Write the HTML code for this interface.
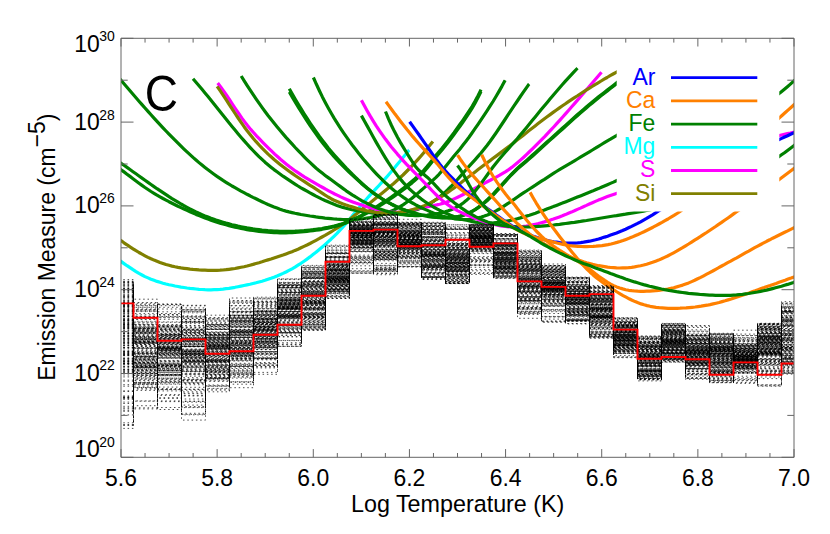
<!DOCTYPE html><html><head><meta charset="utf-8"><title>EM loci</title>
<style>html,body{margin:0;padding:0;background:#fff}svg{display:block}text{font-family:"Liberation Sans",sans-serif;fill:#000}</style></head><body>
<svg width="830" height="534" viewBox="0 0 830 534">
<rect width="830" height="534" fill="#fff"/>
<defs><clipPath id="cp"><rect x="121.0" y="38.3" width="673.0" height="419.0"/></clipPath></defs>
<g clip-path="url(#cp)" fill="none" stroke-width="3.2" stroke-linejoin="round">
<path d="M112.0 255.0 115.0 257.1 118.0 259.3 121.0 261.4 124.0 263.6 127.0 265.7 130.0 267.7 133.0 269.7 136.0 271.6 139.0 273.4 142.0 275.0 145.0 276.6 148.0 277.9 151.0 279.2 154.0 280.3 157.0 281.4 160.0 282.3 163.0 283.2 166.0 284.0 169.0 284.7 172.0 285.3 175.0 286.0 178.0 286.5 181.0 287.1 184.0 287.5 187.0 288.0 190.0 288.4 193.0 288.7 196.0 289.0 199.0 289.3 202.0 289.5 205.0 289.7 208.0 289.8 211.0 289.8 214.0 289.7 217.0 289.6 220.0 289.4 223.0 289.1 226.0 288.7 229.0 288.3 232.0 287.8 235.0 287.3 238.0 286.7 241.0 286.1 244.0 285.5 247.0 284.9 250.0 284.3 253.0 283.5 256.0 282.8 259.0 282.0 262.0 281.2 265.0 280.3 268.0 279.3 271.0 278.3 274.0 277.2 277.0 276.0 280.0 274.7 283.0 273.4 286.0 272.0 289.0 270.4 292.0 268.8 295.0 267.1 298.0 265.2 301.0 263.3 304.0 261.2 307.0 259.1 310.0 256.9 313.0 254.5 316.0 252.2 319.0 249.7 322.0 247.2 325.0 244.6 328.0 241.9 331.0 239.2 334.0 236.3 337.0 233.3 340.0 230.1 343.0 226.8 346.0 223.4 349.0 219.8 352.0 216.3 355.0 212.6 358.0 209.0 361.0 205.4 364.0 201.9 367.0 198.5 370.0 195.1 373.0 191.9 376.0 188.7 379.0 185.5 382.0 182.2 385.0 178.9 388.0 175.5 391.0 172.0 394.0 168.4 397.0 164.8 400.0 161.2 403.0 157.6 406.0 153.9 409.0 150.2 409.2 150.0" stroke="#00ffff"/>
<path d="M112.0 234.0 115.0 236.2 118.0 238.5 121.0 240.6 124.0 242.8 127.0 244.8 130.0 246.9 133.0 248.8 136.0 250.7 139.0 252.5 142.0 254.2 145.0 255.8 148.0 257.4 151.0 258.8 154.0 260.1 157.0 261.3 160.0 262.5 163.0 263.5 166.0 264.5 169.0 265.3 172.0 266.1 175.0 266.8 178.0 267.4 181.0 267.9 184.0 268.3 187.0 268.7 190.0 269.1 193.0 269.4 196.0 269.6 199.0 269.9 202.0 270.1 205.0 270.2 208.0 270.3 211.0 270.4 214.0 270.4 217.0 270.3 220.0 270.2 223.0 270.0 226.0 269.7 229.0 269.3 232.0 268.9 235.0 268.5 238.0 267.9 241.0 267.3 244.0 266.7 247.0 266.0 250.0 265.2 253.0 264.4 256.0 263.5 259.0 262.7 262.0 261.8 265.0 260.8 268.0 259.9 271.0 259.0 274.0 258.0 277.0 257.0 280.0 256.0 283.0 255.0 286.0 253.9 289.0 252.8 292.0 251.7 295.0 250.4 298.0 249.2 301.0 247.8 304.0 246.4 307.0 245.0 310.0 243.5 313.0 241.9 316.0 240.3 319.0 238.7 322.0 237.0 325.0 235.4 328.0 233.6 331.0 231.8 334.0 230.0 337.0 228.1 340.0 226.1 343.0 224.1 346.0 222.0 349.0 219.8 352.0 217.5 355.0 215.1 358.0 212.7 361.0 210.3 364.0 207.8 367.0 205.4 370.0 202.9 373.0 200.5 376.0 198.0 379.0 195.6 382.0 193.2 385.0 190.7 388.0 188.3 391.0 185.7 394.0 183.2 397.0 180.5 400.0 177.8 403.0 175.0 406.0 172.0 409.0 169.0 412.0 165.9 415.0 162.7 418.0 159.4 421.0 156.0 424.0 152.5 427.0 148.9 430.0 145.1 432.9 141.4" stroke="#808000"/>
<path d="M112.0 157.0 115.0 159.0 118.0 161.1 121.0 163.2 124.0 165.3 127.0 167.4 130.0 169.5 133.0 171.7 136.0 173.8 139.0 176.0 142.0 178.1 145.0 180.3 148.0 182.4 151.0 184.5 154.0 186.6 157.0 188.7 160.0 190.7 163.0 192.7 166.0 194.7 169.0 196.7 172.0 198.6 175.0 200.4 178.0 202.2 181.0 204.0 184.0 205.7 187.0 207.3 190.0 208.9 193.0 210.4 196.0 211.9 199.0 213.3 202.0 214.6 205.0 215.9 208.0 217.1 211.0 218.3 214.0 219.3 217.0 220.4 220.0 221.3 223.0 222.2 226.0 223.1 229.0 223.9 232.0 224.7 235.0 225.4 238.0 226.1 241.0 226.7 244.0 227.3 247.0 227.9 250.0 228.4 253.0 228.9 256.0 229.3 259.0 229.7 262.0 230.1 265.0 230.4 268.0 230.7 271.0 230.9 274.0 231.1 277.0 231.2 280.0 231.3 283.0 231.4 286.0 231.4 289.0 231.4 292.0 231.3 295.0 231.2 298.0 231.0 301.0 230.8 304.0 230.6 307.0 230.3 310.0 230.0 313.0 229.7 316.0 229.3 319.0 228.9 322.0 228.5 325.0 227.9 328.0 227.4 331.0 226.7 334.0 226.0 337.0 225.2 340.0 224.4 343.0 223.4 346.0 222.3 349.0 221.2 352.0 219.9 355.0 218.5 358.0 217.1 361.0 215.6 364.0 214.0 367.0 212.3 370.0 210.6 373.0 208.8 376.0 207.0 379.0 205.1 382.0 203.2 385.0 201.3 388.0 199.3 391.0 197.2 394.0 195.1 397.0 193.0 400.0 190.8 403.0 188.5 406.0 186.2 409.0 183.8 412.0 181.3 415.0 178.8 418.0 176.1 421.0 173.2 424.0 170.0 427.0 166.6 430.0 162.9 433.0 159.1 436.0 155.3 439.0 151.7 442.0 148.2 445.0 144.5 448.0 140.7 451.0 136.7 454.0 132.7 457.0 128.5 460.0 124.3 463.0 120.1 466.0 115.7 469.0 111.2 472.0 106.5 475.0 101.3 478.0 95.7 481.0 89.6" stroke="#008000"/>
<path d="M112.0 163.5 115.0 165.5 118.0 167.6 121.0 169.7 124.0 171.9 127.0 174.2 130.0 176.4 133.0 178.7 136.0 181.0 139.0 183.2 142.0 185.4 145.0 187.5 148.0 189.5 151.0 191.5 154.0 193.3 157.0 195.1 160.0 196.8 163.0 198.5 166.0 200.1 169.0 201.7 172.0 203.2 175.0 204.7 178.0 206.2 181.0 207.6 184.0 209.0 187.0 210.4 190.0 211.8 193.0 213.1 196.0 214.4 199.0 215.6 202.0 216.8 205.0 218.0 208.0 219.1 211.0 220.2 214.0 221.2 217.0 222.2 220.0 223.1 223.0 224.0 226.0 224.8 229.0 225.6 232.0 226.4 235.0 227.1 238.0 227.8 241.0 228.4 244.0 229.0 247.0 229.6 250.0 230.1 253.0 230.5 256.0 231.0 259.0 231.4 262.0 231.7 265.0 232.0 268.0 232.2 271.0 232.5 274.0 232.6 277.0 232.7 280.0 232.8 283.0 232.8 286.0 232.8 289.0 232.7 292.0 232.6 295.0 232.4 298.0 232.2 301.0 232.0 304.0 231.7 307.0 231.3 310.0 231.0 313.0 230.6 316.0 230.2 319.0 229.8 322.0 229.3 325.0 228.7 328.0 228.1 331.0 227.4 334.0 226.7 337.0 225.9 340.0 225.0 343.0 224.0 346.0 222.9 349.0 221.8 352.0 220.5 355.0 219.2 358.0 217.8 361.0 216.3 364.0 214.7 367.0 213.1 370.0 211.4 373.0 209.7 376.0 207.9 379.0 206.1 382.0 204.3 385.0 202.4 388.0 200.4 391.0 198.5 394.0 196.4 397.0 194.3 400.0 192.2 403.0 190.0 406.0 187.7 409.0 185.3 412.0 182.9 415.0 180.3 418.0 177.6 421.0 174.7 424.0 171.6 427.0 168.2 430.0 164.5 433.0 160.7 436.0 157.1 439.0 153.5 442.0 150.0 445.0 146.3 448.0 142.5 451.0 138.5 454.0 134.5 457.0 130.4 460.0 126.2 463.0 122.0 466.0 117.7 469.0 113.2 472.0 108.4 475.0 103.2 478.0 97.6 481.0 91.5" stroke="#008000"/>
<path d="M112.0 69.5 115.0 73.1 118.0 76.6 121.0 80.2 124.0 83.7 127.0 87.2 130.0 90.8 133.0 94.3 136.0 97.7 139.0 101.2 142.0 104.6 145.0 108.0 148.0 111.4 151.0 114.8 154.0 118.1 157.0 121.4 160.0 124.6 163.0 127.8 166.0 131.0 169.0 134.1 172.0 137.2 175.0 140.2 178.0 143.2 181.0 146.2 184.0 149.1 187.0 151.9 190.0 154.6 193.0 157.4 196.0 160.0 199.0 162.6 202.0 165.1 205.0 167.5 208.0 169.8 211.0 172.1 214.0 174.3 217.0 176.4 220.0 178.4 223.0 180.4 226.0 182.3 229.0 184.2 232.0 186.0 235.0 187.7 238.0 189.4 241.0 191.1 244.0 192.7 247.0 194.3 250.0 195.8 253.0 197.4 256.0 198.8 259.0 200.3 262.0 201.7 265.0 203.1 268.0 204.5 271.0 205.7 274.0 207.0 277.0 208.1 280.0 209.2 283.0 210.2 286.0 211.1 289.0 211.9 292.0 212.6 295.0 213.3 298.0 213.9 301.0 214.5 304.0 215.0 307.0 215.5 310.0 216.0 313.0 216.4 316.0 216.9 319.0 217.3 322.0 217.7 325.0 218.1 328.0 218.4 331.0 218.7 334.0 219.0 337.0 219.2 340.0 219.3 343.0 219.5 346.0 219.5 349.0 219.5 352.0 219.4 355.0 219.3 358.0 219.1 361.0 218.8 364.0 218.5 367.0 218.0 370.0 217.5 373.0 216.9 376.0 216.3 379.0 215.5 382.0 214.6 385.0 213.7 388.0 212.6 391.0 211.3 394.0 210.0 397.0 208.4 400.0 206.7 403.0 204.9 406.0 202.8 409.0 200.5 412.0 198.2 415.0 195.7 418.0 193.1 421.0 190.5 424.0 187.9 427.0 185.3 430.0 182.7 433.0 180.1 436.0 177.3 439.0 174.3 442.0 170.9 445.0 167.3 448.0 163.4 451.0 159.7 454.0 156.1 457.0 152.5 460.0 148.9 463.0 145.1 466.0 141.2 469.0 137.2 472.0 133.0 475.0 128.7 478.0 124.3 481.0 119.9 484.0 115.4 487.0 110.9 490.0 106.2 493.0 101.5 496.0 96.5 499.0 91.4 502.0 86.1 505.0 80.5 505.1 80.3" stroke="#008000"/>
<path d="M193.0 78.7 196.0 82.2 199.0 85.7 202.0 89.3 205.0 92.9 208.0 96.6 211.0 100.3 214.0 104.1 217.0 107.8 220.0 111.6 223.0 115.3 226.0 119.0 229.0 122.8 232.0 126.4 235.0 130.1 238.0 133.7 241.0 137.2 244.0 140.6 247.0 144.0 250.0 147.3 253.0 150.5 256.0 153.6 259.0 156.6 262.0 159.4 265.0 162.2 268.0 164.7 271.0 167.2 274.0 169.6 277.0 171.8 280.0 174.0 283.0 176.2 286.0 178.2 289.0 180.2 292.0 182.2 295.0 184.1 298.0 186.0 301.0 187.8 304.0 189.5 307.0 191.2 310.0 192.9 313.0 194.5 316.0 196.1 319.0 197.6 322.0 199.1 325.0 200.5 328.0 201.8 331.0 203.1 334.0 204.3 337.0 205.4 340.0 206.4 343.0 207.4 346.0 208.2 349.0 209.0 352.0 209.7 355.0 210.3 358.0 210.9 361.0 211.4 364.0 211.9 367.0 212.3 370.0 212.7 373.0 213.1 376.0 213.4 379.0 213.6 382.0 213.8 385.0 213.9 388.0 214.0 391.0 214.0 394.0 213.9 397.0 213.7 400.0 213.5 403.0 213.1 406.0 212.6 409.0 212.0 412.0 211.2 415.0 210.3 418.0 209.3 421.0 208.1 424.0 206.7 427.0 205.2 430.0 203.5 433.0 201.6 436.0 199.5 439.0 197.3 442.0 194.9 445.0 192.3 448.0 189.5 451.0 186.5 454.0 183.3 457.0 180.0 460.0 176.6 463.0 173.2 466.0 169.8 469.0 166.4 472.0 163.1 475.0 159.8 478.0 156.4 481.0 153.0 484.0 149.3 487.0 145.5 490.0 141.5 493.0 137.3 496.0 133.0 499.0 128.5 502.0 124.0 505.0 119.5 508.0 114.9 511.0 110.4 514.0 105.9 517.0 101.5 520.0 97.0 523.0 92.6 526.0 88.3 529.0 84.1 529.1 84.0" stroke="#008000"/>
<path d="M217.7 83.1 220.7 87.0 223.7 91.1 226.7 95.5 229.7 100.0 232.7 104.6 235.7 109.1 238.7 113.5 241.7 117.9 244.7 121.9 247.7 125.8 250.7 129.4 253.7 132.8 256.7 136.1 259.7 139.2 262.7 142.3 265.7 145.3 268.7 148.3 271.7 151.2 274.7 154.1 277.7 156.8 280.7 159.5 283.7 162.0 286.7 164.4 289.7 166.8 292.7 169.0 295.7 171.2 298.7 173.2 301.7 175.2 304.7 177.1 307.7 178.9 310.7 180.7 313.7 182.4 316.7 184.1 319.7 185.8 322.7 187.5 325.7 189.2 328.7 190.8 331.7 192.4 334.7 194.0 337.7 195.4 340.7 196.9 343.7 198.2 346.7 199.5 349.7 200.8 352.7 201.9 355.7 203.1 358.7 204.1 361.7 205.1 364.7 206.1 367.7 207.0 370.7 207.9 373.7 208.7 376.7 209.5 379.7 210.3 382.7 210.9 385.7 211.5 388.7 211.9 391.7 212.2 394.7 212.3 397.7 212.3 400.7 212.1 403.7 211.7 406.7 211.2 409.7 210.6 412.7 209.9 415.7 209.2 418.7 208.5 421.7 207.8 424.7 207.2 427.7 206.6 430.7 206.1 433.7 205.5 436.7 204.9 439.7 204.2 442.7 203.4 445.7 202.4 448.7 201.2 451.7 200.0 454.7 198.6 457.7 197.2 460.7 195.8 463.7 194.3 466.7 192.8 469.7 191.2 472.7 189.7 475.7 188.0 478.7 186.4 481.7 184.8 484.7 183.1 487.7 181.5 490.7 180.0 493.7 178.4 496.7 176.8 499.7 175.2 502.7 173.4 505.7 171.6 508.7 169.6 511.7 167.4 514.7 165.0 517.7 162.5 520.7 159.9 523.7 157.2 526.7 154.4 529.7 151.5 532.7 148.6 535.7 145.7 538.7 142.7 541.7 139.6 544.7 136.6 547.7 133.4 550.7 130.2 553.7 127.0 556.7 123.7 559.7 120.4 562.7 117.0 565.7 113.6 568.7 110.2 571.7 106.8 574.7 103.4 577.7 99.9 580.7 96.5 583.7 93.0 586.7 89.5 589.7 86.0 592.7 82.5 595.7 79.0 598.7 75.5 601.5 72.2" stroke="#ff00ff"/>
<path d="M217.1 86.3 220.1 90.6 223.1 95.1 226.1 99.7 229.1 104.3 232.1 108.9 235.1 113.5 238.1 118.0 241.1 122.4 244.1 126.7 247.1 130.7 250.1 134.5 253.1 138.2 256.1 141.7 259.1 145.0 262.1 148.2 265.1 151.2 268.1 154.1 271.1 156.8 274.1 159.5 277.1 162.0 280.1 164.4 283.1 166.8 286.1 169.0 289.1 171.3 292.1 173.4 295.1 175.5 298.1 177.5 301.1 179.5 304.1 181.4 307.1 183.4 310.1 185.3 313.1 187.2 316.1 189.2 319.1 191.1 322.1 193.1 325.1 195.1 328.1 197.0 331.1 198.7 334.1 200.2 337.1 201.5 340.1 202.8 343.1 203.9 346.1 205.0 349.1 206.0 352.1 206.9 355.1 207.8 358.1 208.7 361.1 209.5 364.1 210.2 367.1 210.9 370.1 211.4 373.1 212.0 376.1 212.4 379.1 212.7 382.1 212.9 385.1 213.1 388.1 213.1 391.1 213.0 394.1 212.8 397.1 212.5 400.1 212.1 403.1 211.7 406.1 211.1 409.1 210.5 412.1 209.7 415.1 208.9 418.1 207.9 421.1 206.9 424.1 205.7 427.1 204.4 430.1 203.0 433.1 201.4 436.1 199.7 439.1 198.0 442.1 196.1 445.1 194.2 448.1 192.1 451.1 190.0 454.1 187.9 457.1 185.7 460.1 183.4 463.1 181.1 466.1 178.8 469.1 176.5 472.1 174.2 475.1 171.9 478.1 169.6 481.1 167.3 484.1 165.0 487.1 162.8 490.1 160.6 493.1 158.3 496.1 156.1 499.1 153.9 502.1 151.6 505.1 149.4 508.1 147.1 511.1 144.8 514.1 142.5 517.1 140.1 520.1 137.8 523.1 135.4 526.1 133.0 529.1 130.6 532.1 128.3 535.1 125.9 538.1 123.6 541.1 121.3 544.1 119.0 547.1 116.8 550.1 114.6 553.1 112.4 556.1 110.2 559.1 108.1 562.1 106.0 565.1 104.0 568.1 101.9 571.1 99.9 574.1 97.9 577.1 96.0 580.1 94.0 583.1 92.1 586.1 90.2 589.1 88.3 592.1 86.5 595.1 84.6 598.1 82.8 601.1 81.0 604.1 79.2 607.1 77.5 610.1 75.7 613.1 74.0 616.1 72.3 619.1 70.7 622.1 69.0 625.1 67.4 628.1 65.9 631.1 64.3 634.1 62.8 637.1 61.4 640.0 60.0" stroke="#808000"/>
<path d="M241.2 76.0 244.2 80.9 247.2 85.6 250.2 90.2 253.2 94.7 256.2 99.1 259.2 103.4 262.2 107.6 265.2 111.7 268.2 115.7 271.2 119.5 274.2 123.3 277.2 127.0 280.2 130.6 283.2 134.1 286.2 137.6 289.2 140.9 292.2 144.2 295.2 147.5 298.2 150.6 301.2 153.7 304.2 156.8 307.2 159.8 310.2 162.7 313.2 165.5 316.2 168.2 319.2 170.7 322.2 173.1 325.2 175.4 328.2 177.6 331.2 179.8 334.2 182.0 337.2 184.2 340.2 186.4 343.2 188.6 346.2 190.8 349.2 192.8 352.2 194.8 355.2 196.7 358.2 198.5 361.2 200.3 364.2 201.9 367.2 203.4 370.2 204.9 373.2 206.2 376.2 207.5 379.2 208.7 382.2 209.7 385.2 210.7 388.2 211.6 391.2 212.4 394.2 213.1 397.2 213.8 400.2 214.3 403.2 214.7 406.2 215.1 409.2 215.3 412.2 215.5 415.2 215.6 418.2 215.6 421.2 215.5 424.2 215.3 427.2 215.1 430.2 214.7 433.2 214.3 436.2 213.8 439.2 213.2 442.2 212.5 445.2 211.7 448.2 210.8 451.2 209.7 454.2 208.4 457.2 206.9 460.2 205.1 463.2 203.0 466.2 200.6 469.2 197.8 472.2 194.6 475.2 191.1 478.2 187.3 481.2 183.3 484.2 179.1 487.2 175.0 490.2 170.8 493.2 166.8 496.2 163.0 499.2 159.3 502.2 155.8 505.2 152.3 508.2 148.9 511.2 145.5 514.2 142.1 517.2 138.7 520.2 135.1 523.2 131.6 526.2 127.9 529.2 124.3 532.2 120.6 535.2 116.9 538.2 113.3 541.2 109.6 544.2 106.0 547.2 102.4 550.2 98.8 553.2 95.2 556.2 91.7 559.2 88.2 562.2 84.8 565.2 81.4 568.2 78.1 571.2 74.8 574.2 71.6 577.2 68.5 577.5 68.2" stroke="#008000"/>
<path d="M289.3 88.8 292.3 94.1 295.3 99.2 298.3 104.3 301.3 109.2 304.3 114.0 307.3 118.7 310.3 123.3 313.3 127.7 316.3 132.0 319.3 136.2 322.3 140.2 325.3 144.1 328.3 147.9 331.3 151.5 334.3 155.0 337.3 158.4 340.3 161.7 343.3 164.9 346.3 168.1 349.3 171.1 352.3 174.2 355.3 177.1 358.3 180.0 361.3 182.7 364.3 185.4 367.3 188.0 370.3 190.4 373.3 192.7 376.3 194.9 379.3 197.0 382.3 198.9 385.3 200.8 388.3 202.4 391.3 204.0 394.3 205.5 397.3 206.9 400.3 208.2 403.3 209.4 406.3 210.5 409.3 211.5 412.3 212.4 415.3 213.3 418.3 214.1 421.3 214.8 424.3 215.4 427.3 216.0 430.3 216.5 433.3 216.9 436.3 217.2 439.3 217.5 442.3 217.6 445.3 217.7 448.3 217.7 451.3 217.6 454.3 217.3 457.3 216.8 460.3 216.1 463.3 215.3 466.3 214.2 469.3 212.9 472.3 211.2 475.3 209.4 478.3 207.3 481.3 204.9 484.3 202.4 487.3 199.7 490.3 196.8 493.3 193.8 496.3 190.6 499.3 187.4 502.3 184.1 505.3 180.8 508.3 177.5 511.3 174.4 514.3 171.4 517.3 168.5 520.3 165.8 523.3 163.2 526.3 160.6 529.3 158.0 532.3 155.3 535.3 152.6 538.3 149.9 541.3 147.1 544.3 144.4 547.3 141.7 550.3 139.1 553.3 136.4 556.3 133.7 559.3 131.0 562.3 128.3 565.3 125.6 568.3 122.9 571.3 120.2 574.3 117.5 577.3 114.8 580.3 112.2 583.3 109.6 586.3 107.1 589.3 104.5 592.3 102.0 595.3 99.6 598.3 97.1 601.3 94.7 604.3 92.4 607.3 90.0 610.3 87.7 613.3 85.4 616.3 83.1 619.3 80.8 622.3 78.5 625.3 76.3 628.3 74.1 631.3 71.8 634.3 69.6 637.3 67.4 640.0 65.4" stroke="#008000"/>
<path d="M289.3 92.0 292.3 97.1 295.3 102.1 298.3 107.1 301.3 111.9 304.3 116.7 307.3 121.3 310.3 125.8 313.3 130.2 316.3 134.4 319.3 138.6 322.3 142.5 325.3 146.3 328.3 150.0 331.3 153.5 334.3 156.9 337.3 160.1 340.3 163.3 343.3 166.3 346.3 169.3 349.3 172.3 352.3 175.1 355.3 177.9 358.3 180.7 361.3 183.4 364.3 185.9 367.3 188.4 370.3 190.8 373.3 193.1 376.3 195.2 379.3 197.2 382.3 199.1 385.3 200.9 388.3 202.6 391.3 204.2 394.3 205.7 397.3 207.1 400.3 208.3 403.3 209.6 406.3 210.7 409.3 211.7 412.3 212.7 415.3 213.6 418.3 214.4 421.3 215.1 424.3 215.7 427.3 216.3 430.3 216.8 433.3 217.1 436.3 217.4 439.3 217.7 442.3 217.8 445.3 217.8 448.3 217.8 451.3 217.5 454.3 217.2 457.3 216.7 460.3 216.0 463.3 215.2 466.3 214.1 469.3 212.8 472.3 211.3 475.3 209.6 478.3 207.6 481.3 205.5 484.3 203.1 487.3 200.5 490.3 197.7 493.3 194.8 496.3 191.6 499.3 188.3 502.3 185.0 505.3 181.6 508.3 178.2 511.3 175.0 514.3 172.0 517.3 169.1 520.3 166.5 523.3 164.0 526.3 161.5 529.3 158.9 532.3 156.3 535.3 153.5 538.3 150.8 541.3 148.0 544.3 145.3 547.3 142.6 550.3 139.9 553.3 137.3 556.3 134.6 559.3 131.9 562.3 129.2 565.3 126.5 568.3 123.8 571.3 121.1 574.3 118.4 577.3 115.7 580.3 113.1 583.3 110.5 586.3 108.0 589.3 105.4 592.3 102.9 595.3 100.5 598.3 98.0 601.3 95.6 604.3 93.3 607.3 90.9 610.3 88.6 613.3 86.3 616.3 84.0 619.3 81.7 622.3 79.4 625.3 77.2 628.3 74.9 631.3 72.7 634.3 70.5 637.3 68.2 640.0 66.2" stroke="#008000"/>
<path d="M313.4 77.5 316.4 84.3 319.4 90.7 322.4 96.9 325.4 102.7 328.4 108.2 331.4 113.5 334.4 118.6 337.4 123.4 340.4 128.1 343.4 132.6 346.4 136.9 349.4 141.1 352.4 145.2 355.4 149.1 358.4 153.0 361.4 156.7 364.4 160.4 367.4 163.9 370.4 167.3 373.4 170.6 376.4 173.8 379.4 176.9 382.4 179.9 385.4 182.8 388.4 185.5 391.4 188.2 394.4 190.7 397.4 193.0 400.4 195.3 403.4 197.4 406.4 199.4 409.4 201.3 412.4 203.0 415.4 204.7 418.4 206.2 421.4 207.7 424.4 209.1 427.4 210.4 430.4 211.7 433.4 212.9 436.4 214.0 439.4 215.0 442.4 216.0 445.4 216.8 448.4 217.6 451.4 218.2 454.4 218.8 457.4 219.2 460.4 219.4 463.4 219.5 466.4 219.5 469.4 219.3 472.4 219.0 475.4 218.5 478.4 217.9 481.4 217.1 484.4 216.1 487.4 215.0 490.4 213.7 493.4 212.3 496.4 210.7 499.4 209.0 502.4 207.2 505.4 205.2 508.4 203.2 511.4 201.1 514.4 199.1 517.4 197.0 520.4 194.9 523.4 192.9 526.4 191.0 529.4 189.0 532.4 187.1 535.4 185.2 538.4 183.2 541.4 181.2 544.4 179.3 547.4 177.3 550.4 175.3 553.4 173.4 556.4 171.5 559.4 169.7 562.4 167.9 565.4 166.1 568.4 164.3 571.4 162.6 574.4 160.8 577.4 159.0 580.4 157.2 583.4 155.4 586.4 153.6 589.4 151.8 592.4 150.0 595.4 148.2 598.4 146.3 601.4 144.5 604.4 142.7 607.4 140.9 610.4 139.2 613.4 137.4 616.4 135.7 619.4 133.9 622.4 132.2 625.4 130.5 628.4 128.7 631.4 127.0 634.4 125.3 637.4 123.5 640.4 121.8 643.4 120.0 646.4 118.2 649.4 116.4 650.0 116.0" stroke="#008000"/>
<path d="M361.4 115.6 364.4 121.0 367.4 126.4 370.4 131.8 373.4 137.2 376.4 142.6 379.4 147.8 382.4 152.9 385.4 157.9 388.4 162.7 391.4 167.2 394.4 171.4 397.4 175.4 400.4 179.1 403.4 182.6 406.4 185.8 409.4 188.8 412.4 191.6 415.4 194.3 418.4 196.7 421.4 199.1 424.4 201.2 427.4 203.3 430.4 205.2 433.4 207.0 436.4 208.6 439.4 210.2 442.4 211.7 445.4 213.1 448.4 214.3 451.4 215.6 454.4 216.7 457.4 217.7 460.4 218.7 463.4 219.6 466.4 220.3 469.4 221.0 472.4 221.6 475.4 222.1 478.4 222.5 481.4 222.8 484.4 223.0 487.4 223.0 490.4 223.0 493.4 222.9 496.4 222.6 499.4 222.3 502.4 221.9 505.4 221.4 508.4 220.8 511.4 220.2 514.4 219.5 517.4 218.7 520.4 217.9 523.4 217.0 526.4 216.1 529.4 215.2 532.4 214.2 535.4 213.2 538.4 212.1 541.4 211.1 544.4 210.0 547.4 208.8 550.4 207.7 553.4 206.6 556.4 205.4 559.4 204.2 562.4 203.1 565.4 201.9 568.4 200.7 571.4 199.5 574.4 198.3 577.4 197.1 580.4 195.9 583.4 194.7 586.4 193.5 589.4 192.3 592.4 191.1 595.4 189.8 598.4 188.6 601.4 187.3 604.4 186.0 607.4 184.7 610.4 183.4 613.4 182.1 616.4 180.7 619.4 179.4 622.4 177.9 625.4 176.5 628.4 175.0 631.4 173.6 634.4 172.1 637.4 170.6 640.4 169.0 643.4 167.5 646.4 165.9 649.4 164.4 652.4 162.8 655.4 161.2 658.4 159.6 661.4 158.0 664.4 156.4 667.4 154.8 670.4 153.2 673.4 151.7 676.4 150.1 679.4 148.5 682.4 146.9 685.4 145.4 688.4 143.8 691.4 142.3 694.4 140.8 697.4 139.3 700.4 137.8 703.4 136.3 706.4 134.9 709.4 133.5 712.4 132.0 715.4 130.6 718.4 129.2 721.4 127.7 724.4 126.3 727.4 124.8 730.4 123.4 733.4 121.9 736.4 120.4 739.4 118.8 742.4 117.2 745.4 115.6 748.4 113.9 751.4 112.2 754.4 110.5 757.4 108.7 760.4 106.8 763.4 104.9 766.4 102.9 769.4 100.8 772.4 98.6 775.4 96.4 778.4 94.1 781.4 91.7 784.4 89.2 787.4 86.7 790.4 84.1 793.4 81.4 796.4 78.8 799.4 76.1 802.4 73.3 805.0 71.0" stroke="#008000"/>
<path d="M361.4 100.2 364.4 105.8 367.4 111.2 370.4 116.4 373.4 121.3 376.4 126.1 379.4 130.6 382.4 134.9 385.4 139.1 388.4 143.0 391.4 146.9 394.4 150.5 397.4 154.1 400.4 157.5 403.4 160.8 406.4 164.1 409.4 167.2 412.4 170.3 415.4 173.4 418.4 176.4 421.4 179.5 424.4 182.6 427.4 185.7 430.4 188.9 433.4 192.0 436.4 195.0 439.4 197.9 442.4 200.5 445.4 202.9 448.4 205.1 451.4 207.1 454.4 208.9 457.4 210.6 460.4 212.1 463.4 213.5 466.4 214.9 469.4 216.1 472.4 217.3 475.4 218.5 478.4 219.6 481.4 220.7 484.4 221.7 487.4 222.6 490.4 223.5 493.4 224.3 496.4 225.0 499.4 225.6 502.4 226.1 505.4 226.5 508.4 226.8 511.4 227.0 514.4 227.0 517.4 226.9 520.4 226.7 523.4 226.4 526.4 226.0 529.4 225.5 532.4 224.9 535.4 224.2 538.4 223.5 541.4 222.7 544.4 221.9 547.4 221.0 550.4 220.1 553.4 219.1 556.4 218.0 559.4 216.9 562.4 215.8 565.4 214.6 568.4 213.3 571.4 212.1 574.4 210.8 577.4 209.4 580.4 208.1 583.4 206.7 586.4 205.4 589.4 204.0 592.4 202.7 595.4 201.4 598.4 200.1 601.4 198.9 604.4 197.7 607.4 196.6 610.4 195.5 613.4 194.5 616.4 193.5 619.4 192.5 622.4 191.5 625.4 190.4 628.4 189.4 631.4 188.3 634.4 187.2 637.4 186.2 640.4 185.1 643.4 183.9 646.4 182.8 649.4 181.7 652.4 180.5 655.4 179.4 658.4 178.3 661.4 177.1 664.4 175.9 667.4 174.8 670.4 173.6 673.4 172.4 676.4 171.2 679.4 170.1 682.4 168.9 685.4 167.7 688.4 166.5 691.4 165.4 694.4 164.2 697.4 163.0 700.4 161.8 703.4 160.7 706.4 159.5 709.4 158.4 712.4 157.2 715.4 156.1 718.4 155.0 721.4 153.9 724.4 152.8 727.4 151.7 730.4 150.6 733.4 149.5 736.4 148.5 739.4 147.4 742.4 146.4 745.4 145.4 748.4 144.4 751.4 143.5 754.4 142.5 757.4 141.6 760.4 140.7 763.4 139.8 766.4 138.9 769.4 138.1 772.4 137.3 775.4 136.5 778.4 135.7 781.4 135.0 784.4 134.3 787.4 133.6 790.4 133.0 793.4 132.3 796.4 131.7 799.4 131.1 802.4 130.5 805.0 130.0" stroke="#ff00ff"/>
<path d="M385.5 111.5 388.5 118.9 391.5 125.5 394.5 131.6 397.5 137.3 400.5 142.6 403.5 147.6 406.5 152.5 409.5 157.3 412.5 162.0 415.5 166.4 418.5 170.0 421.5 172.7 424.5 174.9 427.5 177.4 430.5 180.3 433.5 183.4 436.5 186.6 439.5 189.8 442.5 192.8 445.5 195.6 448.5 198.2 451.5 200.6 454.5 202.9 457.5 205.1 460.5 207.3 463.5 209.3 466.5 211.3 469.5 213.2 472.5 214.9 475.5 216.6 478.5 218.1 481.5 219.5 484.5 220.8 487.5 221.9 490.5 222.9 493.5 223.7 496.5 224.4 499.5 225.0 502.5 225.5 505.5 225.9 508.5 226.3 511.5 226.5 514.5 226.7 517.5 226.9 520.5 227.0 523.5 227.0 526.5 227.0 529.5 226.9 532.5 226.8 535.5 226.6 538.5 226.4 541.5 226.2 544.5 225.9 547.5 225.6 550.5 225.3 553.5 225.0 556.5 224.6 559.5 224.3 562.5 223.9 565.5 223.5 568.5 223.1 571.5 222.7 574.5 222.3 577.5 221.8 580.5 221.4 583.5 220.9 586.5 220.5 589.5 220.0 592.5 219.5 595.5 219.0 598.5 218.5 601.5 218.0 604.5 217.5 607.5 217.0 610.5 216.5 613.5 216.0 616.5 215.6 619.5 215.1 622.5 214.6 625.5 214.2 628.5 213.7 631.5 213.2 634.5 212.7 637.5 212.2 640.5 211.7 643.5 211.1 646.5 210.5 649.5 209.9 652.5 209.2 655.5 208.4 658.5 207.6 661.5 206.8 664.5 206.0 667.5 205.1 670.5 204.2 673.5 203.3 676.5 202.3 679.5 201.3 682.5 200.3 685.5 199.2 688.5 198.1 691.5 197.1 694.5 195.9 697.5 194.8 700.5 193.7 703.5 192.5 706.5 191.4 709.5 190.2 712.5 189.0 715.5 187.8 718.5 186.6 721.5 185.4 724.5 184.2 727.5 183.0 730.5 181.7 733.5 180.5 736.5 179.2 739.5 177.9 742.5 176.6 745.5 175.2 748.5 173.8 751.5 172.4 754.5 170.9 757.5 169.4 760.5 167.8 763.5 166.1 766.5 164.4 769.5 162.6 772.5 160.8 775.5 158.9 778.5 156.9 781.5 154.8 784.5 152.7 787.5 150.4 790.5 148.2 793.5 145.9 796.5 143.6 799.5 141.2 802.5 138.9 805.0 137.0" stroke="#008000"/>
<path d="M409.6 121.7 412.6 125.9 415.6 130.1 418.6 134.3 421.6 138.6 424.6 142.9 427.6 147.2 430.6 151.5 433.6 155.8 436.6 160.0 439.6 164.0 442.6 167.7 445.6 171.1 448.6 174.3 451.6 177.3 454.6 180.3 457.6 183.3 460.6 186.3 463.6 189.3 466.6 192.1 469.6 194.7 472.6 197.2 475.6 199.7 478.6 202.0 481.6 204.3 484.6 206.5 487.6 208.7 490.6 210.9 493.6 213.1 496.6 215.3 499.6 217.4 502.6 219.5 505.6 221.6 508.6 223.6 511.6 225.5 514.6 227.3 517.6 229.0 520.6 230.6 523.6 232.1 526.6 233.5 529.6 234.7 532.6 235.9 535.6 237.0 538.6 238.1 541.6 239.0 544.6 239.8 547.6 240.6 550.6 241.2 553.6 241.8 556.6 242.2 559.6 242.6 562.6 242.9 565.6 243.1 568.6 243.2 571.6 243.2 574.6 243.1 577.6 242.9 580.6 242.6 583.6 242.2 586.6 241.7 589.6 241.2 592.6 240.5 595.6 239.8 598.6 239.0 601.6 238.1 604.6 237.1 607.6 236.2 610.6 235.1 613.6 234.0 616.6 232.9 619.6 231.7 622.6 230.5 625.6 229.2 628.6 227.8 631.6 226.4 634.6 224.9 637.6 223.4 640.6 221.8 643.6 220.1 646.6 218.4 649.6 216.6 652.6 214.8 655.6 212.9 658.6 211.0 661.6 209.1 664.6 207.1 667.6 205.1 670.6 203.1 673.6 201.1 676.6 199.0 679.6 197.0 682.6 194.9 685.6 192.9 688.6 190.8 691.6 188.7 694.6 186.7 697.6 184.6 700.6 182.6 703.6 180.6 706.6 178.6 709.6 176.6 712.6 174.6 715.6 172.7 718.6 170.9 721.6 169.0 724.6 167.2 727.6 165.5 730.6 163.8 733.6 162.1 736.6 160.4 739.6 158.8 742.6 157.2 745.6 155.6 748.6 154.1 751.6 152.6 754.6 151.1 757.6 149.6 760.6 148.2 763.6 146.7 766.6 145.3 769.6 143.9 772.6 142.5 775.6 141.1 778.6 139.7 781.6 138.4 784.6 137.0 787.6 135.7 790.6 134.3 793.6 133.0 796.6 131.7 799.6 130.3 802.6 129.0 805.0 128.0" stroke="#0000ff"/>
<path d="M386.0 101.8 389.0 105.9 392.0 110.0 395.0 114.1 398.0 118.0 401.0 121.9 404.0 125.8 407.0 129.6 410.0 133.2 413.0 136.9 416.0 140.4 419.0 143.8 422.0 147.1 425.0 150.4 428.0 153.6 431.0 156.9 434.0 160.2 437.0 163.6 440.0 167.2 443.0 170.8 446.0 174.4 449.0 177.9 452.0 181.2 455.0 184.1 458.0 186.9 461.0 189.4 464.0 191.8 467.0 194.1 470.0 196.3 473.0 198.5 476.0 200.8 479.0 203.1 482.0 205.3 485.0 207.6 488.0 209.8 491.0 212.0 494.0 214.1 497.0 216.2 500.0 218.3 503.0 220.4 506.0 222.5 509.0 224.6 512.0 226.7 515.0 228.6 518.0 230.3 521.0 231.9 524.0 233.2 527.0 234.5 530.0 235.6 533.0 236.5 536.0 237.5 539.0 238.3 542.0 239.1 545.0 239.9 548.0 240.7 551.0 241.4 554.0 242.2 557.0 243.0 560.0 243.7 563.0 244.4 566.0 245.0 569.0 245.5 572.0 245.9 575.0 246.2 578.0 246.4 581.0 246.5 584.0 246.6 587.0 246.6 590.0 246.5 593.0 246.4 596.0 246.2 599.0 245.9 602.0 245.6 605.0 245.1 608.0 244.6 611.0 244.0 614.0 243.2 617.0 242.4 620.0 241.5 623.0 240.5 626.0 239.4 629.0 238.3 632.0 237.1 635.0 235.8 638.0 234.5 641.0 233.1 644.0 231.7 647.0 230.2 650.0 228.7 653.0 227.2 656.0 225.6 659.0 224.0 662.0 222.4 665.0 220.7 668.0 219.0 671.0 217.2 674.0 215.4 677.0 213.5 680.0 211.5 683.0 209.3 686.0 207.1 689.0 204.7 692.0 202.3 695.0 199.7 698.0 197.1 701.0 194.4 704.0 191.7 707.0 188.8 710.0 186.0 713.0 183.0 716.0 180.1 719.0 177.1 722.0 174.1 725.0 171.1 728.0 168.0 731.0 165.0 734.0 162.0 737.0 158.9 740.0 155.9 743.0 152.9 746.0 149.9 749.0 146.9 752.0 144.0 755.0 141.0 758.0 138.1 761.0 135.2 764.0 132.3 767.0 129.4 770.0 126.6 773.0 123.8 776.0 121.0 779.0 118.2 782.0 115.5 785.0 112.8 788.0 110.1 791.0 107.5 794.0 104.8 797.0 102.1 800.0 99.5 803.0 96.8 805.0 95.0" stroke="#ff8000"/>
<path d="M457.6 155.2 460.6 159.7 463.6 163.9 466.6 167.9 469.6 171.6 472.6 175.2 475.6 178.6 478.6 182.0 481.6 185.2 484.6 188.5 487.6 191.8 490.6 195.1 493.6 198.4 496.6 201.8 499.6 205.1 502.6 208.4 505.6 211.7 508.6 214.8 511.6 217.9 514.6 220.9 517.6 223.8 520.6 226.5 523.6 229.1 526.6 231.6 529.6 234.0 532.6 236.2 535.6 238.3 538.6 240.4 541.6 242.3 544.6 244.2 547.6 245.9 550.6 247.6 553.6 249.2 556.6 250.8 559.6 252.3 562.6 253.7 565.6 255.0 568.6 256.3 571.6 257.5 574.6 258.7 577.6 259.8 580.6 260.8 583.6 261.8 586.6 262.7 589.6 263.5 592.6 264.3 595.6 265.0 598.6 265.7 601.6 266.2 604.6 266.7 607.6 267.2 610.6 267.5 613.6 267.7 616.6 267.9 619.6 268.0 622.6 267.9 625.6 267.8 628.6 267.6 631.6 267.3 634.6 266.9 637.6 266.3 640.6 265.7 643.6 265.0 646.6 264.2 649.6 263.3 652.6 262.3 655.6 261.2 658.6 260.1 661.6 258.8 664.6 257.4 667.6 256.0 670.6 254.4 673.6 252.8 676.6 251.2 679.6 249.4 682.6 247.7 685.6 245.8 688.6 244.0 691.6 242.1 694.6 240.2 697.6 238.3 700.6 236.4 703.6 234.4 706.6 232.5 709.6 230.5 712.6 228.5 715.6 226.5 718.6 224.4 721.6 222.4 724.6 220.3 727.6 218.2 730.6 216.1 733.6 213.9 736.6 211.8 739.6 209.6 742.6 207.4 745.6 205.1 748.6 202.8 751.6 200.5 754.6 198.2 757.6 195.9 760.6 193.6 763.6 191.3 766.6 189.0 769.6 186.7 772.6 184.4 775.6 182.2 778.6 179.9 781.6 177.7 784.6 175.4 787.6 173.2 790.6 171.0 793.6 168.8 796.6 166.5 799.6 164.3 802.6 161.9 805.0 160.0" stroke="#ff8000"/>
<path d="M481.7 154.8 484.7 161.0 487.7 166.8 490.7 172.2 493.7 177.2 496.7 181.9 499.7 186.2 502.7 190.3 505.7 194.2 508.7 197.9 511.7 201.5 514.7 205.1 517.7 208.9 520.7 212.7 523.7 216.5 526.7 220.2 529.7 223.8 532.7 227.2 535.7 230.5 538.7 233.5 541.7 236.4 544.7 239.1 547.7 241.7 550.7 244.0 553.7 246.2 556.7 248.3 559.7 250.3 562.7 252.2 565.7 254.0 568.7 255.8 571.7 257.6 574.7 259.4 577.7 261.2 580.7 263.1 583.7 265.1 586.7 267.2 589.7 269.4 592.7 271.6 595.7 273.9 598.7 276.2 601.7 278.3 604.7 280.4 607.7 282.3 610.7 284.1 613.7 285.6 616.7 286.9 619.7 288.0 622.7 288.9 625.7 289.7 628.7 290.3 631.7 290.7 634.7 291.0 637.7 291.2 640.7 291.3 643.7 291.3 646.7 291.2 649.7 291.1 652.7 290.9 655.7 290.7 658.7 290.3 661.7 290.0 664.7 289.5 667.7 289.0 670.7 288.4 673.7 287.7 676.7 286.9 679.7 286.0 682.7 285.1 685.7 284.0 688.7 282.9 691.7 281.6 694.7 280.3 697.7 278.8 700.7 277.4 703.7 275.8 706.7 274.2 709.7 272.6 712.7 271.0 715.7 269.3 718.7 267.7 721.7 266.0 724.7 264.4 727.7 262.7 730.7 261.1 733.7 259.4 736.7 257.8 739.7 256.1 742.7 254.4 745.7 252.7 748.7 251.1 751.7 249.4 754.7 247.7 757.7 246.1 760.7 244.5 763.7 242.9 766.7 241.3 769.7 239.8 772.7 238.2 775.7 236.8 778.7 235.3 781.7 233.8 784.7 232.3 787.7 230.9 790.7 229.4 793.7 227.9 796.7 226.4 799.7 224.8 802.7 223.2 805.0 222.0" stroke="#ff8000"/>
<path d="M530.1 192.4 533.1 197.7 536.1 202.8 539.1 207.6 542.1 212.3 545.1 216.8 548.1 221.1 551.1 225.3 554.1 229.3 557.1 233.3 560.1 237.2 563.1 241.0 566.1 244.8 569.1 248.5 572.1 252.2 575.1 255.8 578.1 259.4 581.1 262.9 584.1 266.2 587.1 269.3 590.1 272.2 593.1 274.9 596.1 277.4 599.1 279.8 602.1 282.0 605.1 284.1 608.1 286.2 611.1 288.1 614.1 290.1 617.1 292.0 620.1 293.8 623.1 295.6 626.1 297.2 629.1 298.8 632.1 300.3 635.1 301.6 638.1 302.8 641.1 303.9 644.1 304.8 647.1 305.6 650.1 306.3 653.1 306.8 656.1 307.3 659.1 307.7 662.1 307.9 665.1 308.1 668.1 308.3 671.1 308.3 674.1 308.3 677.1 308.3 680.1 308.2 683.1 308.0 686.1 307.9 689.1 307.6 692.1 307.3 695.1 307.0 698.1 306.6 701.1 306.2 704.1 305.7 707.1 305.2 710.1 304.6 713.1 303.9 716.1 303.2 719.1 302.5 722.1 301.6 725.1 300.8 728.1 299.9 731.1 299.0 734.1 298.0 737.1 297.0 740.1 296.0 743.1 295.0 746.1 293.9 749.1 292.9 752.1 291.8 755.1 290.8 758.1 289.7 761.1 288.6 764.1 287.6 767.1 286.5 770.1 285.5 773.1 284.4 776.1 283.4 779.1 282.3 782.1 281.2 785.1 280.2 788.1 279.1 791.1 278.1 794.1 277.0 797.1 275.9 800.1 274.8 803.1 273.7 805.0 273.0" stroke="#ff8000"/>
<path d="M457.5 165.5 460.5 169.6 463.5 174.6 466.5 180.0 469.5 185.5 472.5 190.7 475.5 195.4 478.5 199.5 481.5 203.3 484.5 206.7 487.5 209.9 490.5 212.9 493.5 215.6 496.5 218.1 499.5 220.5 502.5 222.5 505.5 224.3 508.5 225.8 511.5 227.1 514.5 228.4 517.5 229.7 520.5 231.2 523.5 232.7 526.5 234.3 529.5 236.0 532.5 237.8 535.5 239.6 538.5 241.5 541.5 243.3 544.5 245.0 547.5 246.7 550.5 248.3 553.5 249.8 556.5 251.4 559.5 252.9 562.5 254.3 565.5 255.7 568.5 257.1 571.5 258.4 574.5 259.7 577.5 261.0 580.5 262.2 583.5 263.4 586.5 264.5 589.5 265.6 592.5 266.8 595.5 267.9 598.5 269.0 601.5 270.1 604.5 271.2 607.5 272.3 610.5 273.5 613.5 274.6 616.5 275.7 619.5 276.8 622.5 277.8 625.5 278.9 628.5 279.9 631.5 280.9 634.5 281.9 637.5 282.8 640.5 283.7 643.5 284.6 646.5 285.4 649.5 286.2 652.5 286.9 655.5 287.6 658.5 288.3 661.5 289.0 664.5 289.6 667.5 290.1 670.5 290.7 673.5 291.2 676.5 291.7 679.5 292.1 682.5 292.5 685.5 292.9 688.5 293.3 691.5 293.6 694.5 293.9 697.5 294.2 700.5 294.5 703.5 294.7 706.5 294.9 709.5 295.1 712.5 295.2 715.5 295.3 718.5 295.4 721.5 295.4 724.5 295.4 727.5 295.4 730.5 295.3 733.5 295.1 736.5 294.9 739.5 294.6 742.5 294.3 745.5 293.9 748.5 293.5 751.5 293.0 754.5 292.5 757.5 292.0 760.5 291.4 763.5 290.7 766.5 290.1 769.5 289.4 772.5 288.6 775.5 287.8 778.5 287.0 781.5 286.2 784.5 285.3 787.5 284.4 790.5 283.4 793.5 282.4 796.5 281.3 799.5 280.2 802.5 279.0 805.0 278.0" stroke="#008000"/>
</g>
<g clip-path="url(#cp)" fill="none" stroke="#000" stroke-width="0.7" stroke-dasharray="1.5 2.8" stroke-dashoffset="2.0">
<path d="M121.0 354.5H133.5V373.3H157.5V344.3H181.5V355.0H205.5V345.2H229.5V341.3H253.5V333.4H277.5V299.5H301.5V317.9H325.5V273.1H349.5V221.5H373.5V232.3H397.5V244.1H421.5V232.7H445.5V270.1H469.5V230.2H493.5V268.5H517.5V283.1H541.5V305.9H565.5V290.0H589.5V301.4H613.5V332.5H637.5V345.9H661.5V353.5H685.5V342.0H709.5V339.1H733.5V357.7H757.5V335.1H781.5V318.0H794.0"/>
<path d="M121.0 281.6H133.5V333.6H157.5V326.4H181.5V335.8H205.5V388.4H229.5V335.2H253.5V324.5H277.5V336.7H301.5V294.1H325.5V276.8H349.5V232.6H373.5V241.8H397.5V240.0H421.5V252.2H445.5V228.8H469.5V245.8H493.5V275.2H517.5V269.4H541.5V269.2H565.5V323.5H589.5V295.1H613.5V336.3H637.5V373.9H661.5V352.3H685.5V354.4H709.5V373.9H733.5V353.9H757.5V340.7H781.5V358.1H794.0"/>
<path d="M121.0 398.8H133.5V342.7H157.5V372.3H181.5V366.6H205.5V355.0H229.5V348.9H253.5V338.9H277.5V306.9H301.5V301.7H325.5V281.9H349.5V229.3H373.5V249.4H397.5V266.7H421.5V244.1H445.5V262.6H469.5V236.1H493.5V235.0H517.5V287.2H541.5V283.0H565.5V300.5H589.5V331.2H613.5V334.3H637.5V371.0H661.5V334.8H685.5V350.4H709.5V382.2H733.5V373.2H757.5V370.1H781.5V315.7H794.0"/>
<path d="M121.0 324.8H133.5V345.9H157.5V364.7H181.5V356.9H205.5V391.8H229.5V330.7H253.5V331.1H277.5V317.4H301.5V323.5H325.5V264.9H349.5V235.4H373.5V232.1H397.5V256.6H421.5V240.3H445.5V263.2H469.5V244.5H493.5V251.3H517.5V301.1H541.5V291.5H565.5V315.0H589.5V316.4H613.5V357.3H637.5V345.4H661.5V352.1H685.5V369.2H709.5V353.8H733.5V353.1H757.5V375.6H781.5V337.9H794.0"/>
<path d="M121.0 354.1H133.5V347.6H157.5V370.5H181.5V346.0H205.5V315.2H229.5V318.9H253.5V337.0H277.5V303.8H301.5V295.0H325.5V266.5H349.5V234.6H373.5V225.8H397.5V234.5H421.5V253.8H445.5V255.5H469.5V235.1H493.5V258.2H517.5V291.6H541.5V278.3H565.5V283.0H589.5V308.3H613.5V341.4H637.5V378.5H661.5V344.3H685.5V373.1H709.5V349.1H733.5V354.5H757.5V344.5H781.5V317.7H794.0"/>
<path d="M121.0 302.7H133.5V317.2H157.5V375.7H181.5V330.5H205.5V345.7H229.5V367.8H253.5V363.3H277.5V289.2H301.5V304.6H325.5V270.2H349.5V247.4H373.5V235.4H397.5V238.4H421.5V245.2H445.5V271.6H469.5V229.2H493.5V255.1H517.5V278.7H541.5V275.4H565.5V319.8H589.5V295.1H613.5V347.1H637.5V347.1H661.5V356.7H685.5V359.8H709.5V372.1H733.5V334.1H757.5V327.4H781.5V334.3H794.0"/>
<path d="M121.0 311.2H133.5V363.6H157.5V341.7H181.5V350.7H205.5V361.5H229.5V343.2H253.5V343.0H277.5V302.1H301.5V316.1H325.5V286.9H349.5V235.0H373.5V229.0H397.5V235.6H421.5V228.4H445.5V250.0H469.5V241.7H493.5V243.2H517.5V291.4H541.5V305.8H565.5V300.0H589.5V307.1H613.5V337.9H637.5V356.0H661.5V332.0H685.5V365.7H709.5V337.1H733.5V357.8H757.5V353.5H781.5V320.4H794.0"/>
<path d="M121.0 424.9H133.5V354.3H157.5V366.4H181.5V346.4H205.5V335.7H229.5V352.4H253.5V327.9H277.5V306.8H301.5V291.3H325.5V280.1H349.5V235.5H373.5V257.4H397.5V228.7H421.5V244.6H445.5V243.4H469.5V231.5H493.5V252.8H517.5V313.0H541.5V282.9H565.5V303.7H589.5V302.3H613.5V344.8H637.5V362.0H661.5V350.7H685.5V337.6H709.5V362.9H733.5V358.3H757.5V351.3H781.5V311.7H794.0"/>
<path d="M121.0 312.7H133.5V327.1H157.5V348.7H181.5V327.1H205.5V381.4H229.5V350.4H253.5V326.9H277.5V332.8H301.5V316.4H325.5V276.0H349.5V228.0H373.5V215.1H397.5V242.8H421.5V256.9H445.5V255.9H469.5V247.7H493.5V253.0H517.5V300.9H541.5V281.9H565.5V315.0H589.5V334.1H613.5V350.3H637.5V378.3H661.5V356.4H685.5V359.1H709.5V363.9H733.5V376.2H757.5V352.7H781.5V310.9H794.0"/>
<path d="M121.0 355.6H133.5V377.0H157.5V368.6H181.5V361.4H205.5V374.9H229.5V339.0H253.5V339.0H277.5V318.3H301.5V265.4H325.5V281.2H349.5V257.7H373.5V232.3H397.5V233.3H421.5V276.9H445.5V261.9H469.5V237.1H493.5V260.0H517.5V269.9H541.5V278.6H565.5V293.5H589.5V309.4H613.5V353.4H637.5V364.1H661.5V361.1H685.5V353.5H709.5V353.2H733.5V357.6H757.5V323.8H781.5V349.4H794.0"/>
<path d="M121.0 320.7H133.5V338.9H157.5V329.4H181.5V380.3H205.5V333.6H229.5V332.1H253.5V338.8H277.5V340.6H301.5V292.8H325.5V256.2H349.5V241.2H373.5V245.2H397.5V237.0H421.5V265.3H445.5V280.2H469.5V229.5H493.5V253.4H517.5V268.8H541.5V321.2H565.5V285.0H589.5V287.8H613.5V335.1H637.5V371.9H661.5V357.4H685.5V325.5H709.5V350.6H733.5V340.9H757.5V355.7H781.5V361.4H794.0"/>
<path d="M121.0 424.9H133.5V348.9H157.5V363.2H181.5V369.4H205.5V371.0H229.5V340.4H253.5V311.5H277.5V309.2H301.5V307.5H325.5V269.7H349.5V234.1H373.5V258.9H397.5V248.9H421.5V261.7H445.5V265.1H469.5V248.6H493.5V261.7H517.5V283.4H541.5V294.5H565.5V319.2H589.5V304.2H613.5V319.0H637.5V356.9H661.5V327.9H685.5V333.1H709.5V350.5H733.5V364.6H757.5V348.9H781.5V316.8H794.0"/>
<path d="M121.0 326.2H133.5V324.4H157.5V350.1H181.5V362.5H205.5V335.7H229.5V315.3H253.5V308.7H277.5V318.7H301.5V305.4H325.5V277.0H349.5V219.1H373.5V259.9H397.5V263.7H421.5V276.8H445.5V283.3H469.5V232.1H493.5V245.5H517.5V287.4H541.5V297.1H565.5V301.4H589.5V291.8H613.5V325.7H637.5V368.8H661.5V325.4H685.5V337.5H709.5V375.6H733.5V359.0H757.5V340.7H781.5V357.1H794.0"/>
<path d="M121.0 339.0H133.5V327.3H157.5V350.6H181.5V344.3H205.5V378.3H229.5V331.9H253.5V324.2H277.5V318.7H301.5V317.7H325.5V245.9H349.5V227.8H373.5V273.1H397.5V230.8H421.5V232.2H445.5V235.0H469.5V261.6H493.5V268.7H517.5V284.6H541.5V280.6H565.5V311.4H589.5V318.5H613.5V351.9H637.5V375.4H661.5V343.6H685.5V374.6H709.5V346.4H733.5V365.2H757.5V351.4H781.5V340.6H794.0"/>
<path d="M121.0 360.4H133.5V348.4H157.5V309.0H181.5V358.7H205.5V338.3H229.5V337.6H253.5V318.6H277.5V325.9H301.5V326.3H325.5V249.0H349.5V251.4H373.5V245.7H397.5V223.9H421.5V226.5H445.5V274.8H469.5V226.0H493.5V262.3H517.5V291.1H541.5V285.9H565.5V297.9H589.5V316.9H613.5V339.8H637.5V354.3H661.5V342.8H685.5V364.1H709.5V356.4H733.5V368.3H757.5V354.3H781.5V339.7H794.0"/>
<path d="M121.0 320.0H133.5V361.8H157.5V357.8H181.5V353.5H205.5V346.5H229.5V332.4H253.5V318.3H277.5V313.9H301.5V285.7H325.5V270.5H349.5V273.1H373.5V249.9H397.5V236.7H421.5V239.4H445.5V249.5H469.5V244.6H493.5V254.5H517.5V297.2H541.5V287.7H565.5V280.6H589.5V297.5H613.5V344.2H637.5V338.9H661.5V337.2H685.5V379.3H709.5V376.3H733.5V355.7H757.5V365.1H781.5V329.5H794.0"/>
<path d="M121.0 372.3H133.5V316.5H157.5V352.7H181.5V401.2H205.5V371.7H229.5V320.9H253.5V341.1H277.5V307.3H301.5V268.0H325.5V296.8H349.5V251.0H373.5V244.6H397.5V224.0H421.5V243.8H445.5V249.2H469.5V233.1H493.5V252.6H517.5V277.7H541.5V288.2H565.5V321.3H589.5V317.6H613.5V345.9H637.5V350.6H661.5V342.7H685.5V368.7H709.5V361.0H733.5V359.1H757.5V327.2H781.5V311.8H794.0"/>
<path d="M121.0 428.4H133.5V384.2H157.5V321.9H181.5V362.1H205.5V386.1H229.5V348.5H253.5V322.2H277.5V325.4H301.5V327.8H325.5V252.4H349.5V239.7H373.5V233.2H397.5V236.5H421.5V256.6H445.5V281.5H469.5V232.5H493.5V247.1H517.5V253.1H541.5V282.3H565.5V302.9H589.5V315.5H613.5V343.0H637.5V351.9H661.5V337.4H685.5V349.7H709.5V350.1H733.5V359.2H757.5V346.9H781.5V321.5H794.0"/>
<path d="M121.0 367.1H133.5V348.4H157.5V350.1H181.5V334.7H205.5V338.1H229.5V309.2H253.5V327.5H277.5V304.0H301.5V308.9H325.5V284.9H349.5V229.1H373.5V232.7H397.5V253.6H421.5V232.3H445.5V243.7H469.5V224.6H493.5V255.3H517.5V278.8H541.5V274.5H565.5V315.0H589.5V324.3H613.5V337.6H637.5V354.1H661.5V340.9H685.5V357.8H709.5V344.4H733.5V351.4H757.5V323.9H781.5V313.9H794.0"/>
<path d="M121.0 326.0H133.5V390.4H157.5V362.0H181.5V387.3H205.5V353.6H229.5V337.5H253.5V311.6H277.5V307.4H301.5V300.6H325.5V270.4H349.5V227.9H373.5V239.0H397.5V244.7H421.5V264.7H445.5V224.8H469.5V236.2H493.5V254.2H517.5V267.7H541.5V283.3H565.5V315.2H589.5V298.2H613.5V346.9H637.5V367.2H661.5V340.8H685.5V352.5H709.5V354.0H733.5V362.6H757.5V348.9H781.5V331.0H794.0"/>
<path d="M121.0 354.0H133.5V340.7H157.5V379.7H181.5V357.7H205.5V351.4H229.5V331.9H253.5V341.9H277.5V282.5H301.5V325.0H325.5V250.4H349.5V219.0H373.5V265.8H397.5V249.4H421.5V258.5H445.5V267.8H469.5V249.0H493.5V269.4H517.5V273.3H541.5V287.3H565.5V298.8H589.5V295.7H613.5V337.8H637.5V363.6H661.5V330.3H685.5V360.0H709.5V352.8H733.5V347.9H757.5V329.0H781.5V313.6H794.0"/>
<path d="M121.0 343.8H133.5V299.2H157.5V382.4H181.5V353.6H205.5V340.0H229.5V345.4H253.5V319.6H277.5V296.0H301.5V286.8H325.5V278.1H349.5V237.5H373.5V216.0H397.5V231.3H421.5V266.9H445.5V229.1H469.5V225.2H493.5V252.9H517.5V311.9H541.5V293.5H565.5V295.4H589.5V310.8H613.5V330.2H637.5V372.9H661.5V358.6H685.5V359.6H709.5V367.8H733.5V363.7H757.5V338.3H781.5V357.3H794.0"/>
<path d="M121.0 310.5H133.5V310.7H157.5V349.3H181.5V367.2H205.5V346.1H229.5V364.4H253.5V338.8H277.5V285.0H301.5V327.5H325.5V275.9H349.5V238.5H373.5V257.7H397.5V235.6H421.5V255.1H445.5V256.3H469.5V228.3H493.5V267.8H517.5V293.9H541.5V298.2H565.5V294.3H589.5V300.3H613.5V338.7H637.5V370.8H661.5V350.8H685.5V341.3H709.5V350.5H733.5V367.9H757.5V346.8H781.5V320.1H794.0"/>
<path d="M121.0 286.0H133.5V356.9H157.5V360.9H181.5V344.8H205.5V334.6H229.5V300.5H253.5V341.7H277.5V314.4H301.5V274.0H325.5V260.1H349.5V230.6H373.5V246.5H397.5V226.7H421.5V234.3H445.5V243.5H469.5V246.3H493.5V249.7H517.5V273.7H541.5V299.7H565.5V285.1H589.5V321.5H613.5V337.8H637.5V359.4H661.5V358.9H685.5V346.6H709.5V370.7H733.5V363.9H757.5V359.1H781.5V347.5H794.0"/>
<path d="M121.0 407.8H133.5V364.9H157.5V314.5H181.5V340.5H205.5V342.3H229.5V321.7H253.5V327.0H277.5V297.6H301.5V300.7H325.5V276.3H349.5V240.9H373.5V219.2H397.5V244.0H421.5V227.1H445.5V278.7H469.5V230.4H493.5V265.4H517.5V255.8H541.5V305.1H565.5V296.0H589.5V317.1H613.5V341.1H637.5V375.4H661.5V360.6H685.5V365.3H709.5V346.8H733.5V368.6H757.5V335.7H781.5V311.9H794.0"/>
<path d="M121.0 326.3H133.5V360.5H157.5V326.8H181.5V364.4H205.5V369.6H229.5V351.4H253.5V344.5H277.5V308.1H301.5V295.9H325.5V277.0H349.5V239.0H373.5V226.0H397.5V222.6H421.5V249.0H445.5V259.5H469.5V244.3H493.5V256.7H517.5V270.1H541.5V265.8H565.5V293.6H589.5V304.7H613.5V328.1H637.5V358.0H661.5V332.9H685.5V335.4H709.5V349.6H733.5V351.4H757.5V340.5H781.5V348.9H794.0"/>
<path d="M121.0 364.9H133.5V341.7H157.5V364.9H181.5V351.2H205.5V346.6H229.5V347.4H253.5V328.9H277.5V308.6H301.5V305.0H325.5V284.3H349.5V237.4H373.5V231.5H397.5V224.6H421.5V241.6H445.5V248.6H469.5V238.5H493.5V259.1H517.5V296.2H541.5V296.6H565.5V282.5H589.5V304.9H613.5V345.6H637.5V336.5H661.5V325.0H685.5V359.2H709.5V355.4H733.5V347.7H757.5V361.5H781.5V307.1H794.0"/>
<path d="M121.0 364.1H133.5V366.7H157.5V351.0H181.5V350.2H205.5V360.3H229.5V308.9H253.5V328.0H277.5V308.1H301.5V324.8H325.5V280.8H349.5V258.6H373.5V215.1H397.5V234.8H421.5V236.9H445.5V267.3H469.5V228.5H493.5V240.1H517.5V251.5H541.5V285.0H565.5V299.6H589.5V300.9H613.5V324.8H637.5V349.3H661.5V343.7H685.5V344.5H709.5V346.9H733.5V361.4H757.5V372.9H781.5V335.9H794.0"/>
<path d="M121.0 384.7H133.5V335.7H157.5V356.1H181.5V401.4H205.5V344.6H229.5V331.8H253.5V345.6H277.5V330.1H301.5V275.7H325.5V277.0H349.5V243.7H373.5V269.5H397.5V247.0H421.5V255.1H445.5V239.8H469.5V265.1H493.5V266.8H517.5V268.4H541.5V288.7H565.5V293.6H589.5V297.7H613.5V329.8H637.5V341.5H661.5V340.7H685.5V335.3H709.5V363.8H733.5V344.5H757.5V364.4H781.5V307.9H794.0"/>
<path d="M121.0 310.8H133.5V341.8H157.5V343.1H181.5V332.5H205.5V341.0H229.5V337.4H253.5V326.8H277.5V287.8H301.5V272.0H325.5V270.1H349.5V243.3H373.5V267.4H397.5V236.4H421.5V249.6H445.5V280.8H469.5V246.5H493.5V235.6H517.5V279.2H541.5V291.2H565.5V310.2H589.5V333.7H613.5V326.4H637.5V350.5H661.5V333.6H685.5V357.3H709.5V373.5H733.5V354.2H757.5V360.9H781.5V317.4H794.0"/>
<path d="M121.0 396.7H133.5V322.1H157.5V394.6H181.5V383.5H205.5V344.9H229.5V302.2H253.5V306.7H277.5V329.3H301.5V285.5H325.5V278.3H349.5V230.0H373.5V249.9H397.5V245.9H421.5V269.5H445.5V278.5H469.5V238.3H493.5V243.5H517.5V311.2H541.5V272.1H565.5V304.2H589.5V336.8H613.5V326.1H637.5V341.6H661.5V358.3H685.5V358.8H709.5V363.3H733.5V353.2H757.5V340.1H781.5V333.7H794.0"/>
<path d="M121.0 320.1H133.5V388.2H157.5V330.9H181.5V318.2H205.5V319.0H229.5V358.8H253.5V330.3H277.5V304.0H301.5V309.1H325.5V293.0H349.5V232.4H373.5V242.0H397.5V235.5H421.5V255.3H445.5V244.5H469.5V237.3H493.5V264.2H517.5V258.7H541.5V294.2H565.5V296.8H589.5V321.3H613.5V351.6H637.5V362.3H661.5V342.9H685.5V353.0H709.5V364.7H733.5V361.5H757.5V326.6H781.5V335.5H794.0"/>
<path d="M121.0 296.1H133.5V355.9H157.5V397.7H181.5V333.8H205.5V370.9H229.5V321.6H253.5V319.6H277.5V303.1H301.5V278.8H325.5V289.4H349.5V224.0H373.5V243.9H397.5V246.0H421.5V263.8H445.5V262.0H469.5V272.6H493.5V250.4H517.5V256.1H541.5V282.8H565.5V287.0H589.5V319.4H613.5V318.4H637.5V363.5H661.5V341.3H685.5V356.0H709.5V338.9H733.5V355.7H757.5V368.7H781.5V358.3H794.0"/>
<path d="M121.0 353.5H133.5V364.1H157.5V363.6H181.5V357.0H205.5V343.6H229.5V355.8H253.5V328.0H277.5V332.7H301.5V299.6H325.5V297.0H349.5V228.6H373.5V230.0H397.5V257.6H421.5V269.0H445.5V227.1H469.5V245.2H493.5V276.0H517.5V255.6H541.5V295.1H565.5V312.7H589.5V317.0H613.5V353.1H637.5V376.4H661.5V349.1H685.5V326.3H709.5V334.3H733.5V354.7H757.5V333.2H781.5V346.5H794.0"/>
<path d="M121.0 294.9H133.5V330.7H157.5V346.2H181.5V368.9H205.5V354.7H229.5V355.2H253.5V320.5H277.5V304.9H301.5V290.6H325.5V289.6H349.5V243.9H373.5V252.2H397.5V244.4H421.5V260.8H445.5V283.0H469.5V230.4H493.5V245.0H517.5V279.8H541.5V302.1H565.5V312.2H589.5V297.9H613.5V335.7H637.5V346.9H661.5V349.8H685.5V373.7H709.5V366.4H733.5V350.9H757.5V351.8H781.5V347.6H794.0"/>
<path d="M121.0 406.3H133.5V338.9H157.5V365.5H181.5V371.1H205.5V322.6H229.5V337.2H253.5V301.9H277.5V297.7H301.5V315.6H325.5V279.6H349.5V222.3H373.5V249.9H397.5V242.0H421.5V245.2H445.5V240.3H469.5V241.0H493.5V242.2H517.5V270.7H541.5V295.4H565.5V289.9H589.5V307.2H613.5V340.6H637.5V348.7H661.5V357.0H685.5V335.9H709.5V370.6H733.5V330.2H757.5V328.5H781.5V357.6H794.0"/>
<path d="M121.0 313.4H133.5V356.3H157.5V340.9H181.5V332.4H205.5V323.7H229.5V373.8H253.5V342.4H277.5V315.9H301.5V320.7H325.5V267.2H349.5V230.0H373.5V251.9H397.5V225.9H421.5V251.7H445.5V278.6H469.5V248.4H493.5V252.7H517.5V265.8H541.5V277.3H565.5V301.0H589.5V298.6H613.5V343.2H637.5V348.1H661.5V342.9H685.5V345.3H709.5V349.3H733.5V372.0H757.5V347.7H781.5V364.9H794.0"/>
<path d="M121.0 304.7H133.5V362.6H157.5V328.7H181.5V368.0H205.5V379.7H229.5V349.0H253.5V345.9H277.5V282.3H301.5V314.8H325.5V269.9H349.5V247.1H373.5V237.3H397.5V246.9H421.5V260.5H445.5V258.5H469.5V253.6H493.5V253.5H517.5V280.0H541.5V316.4H565.5V291.4H589.5V328.7H613.5V341.7H637.5V373.8H661.5V333.0H685.5V351.0H709.5V358.6H733.5V355.8H757.5V353.7H781.5V348.7H794.0"/>
<path d="M121.0 354.2H133.5V331.1H157.5V368.2H181.5V365.8H205.5V361.3H229.5V329.5H253.5V332.8H277.5V304.4H301.5V308.5H325.5V274.3H349.5V238.7H373.5V234.6H397.5V256.9H421.5V269.4H445.5V240.3H469.5V236.1H493.5V243.0H517.5V285.5H541.5V273.0H565.5V313.8H589.5V327.8H613.5V341.2H637.5V357.1H661.5V356.0H685.5V331.3H709.5V347.9H733.5V355.8H757.5V333.3H781.5V312.1H794.0"/>
<path d="M121.0 344.8H133.5V334.4H157.5V355.6H181.5V333.1H205.5V345.0H229.5V352.8H253.5V335.2H277.5V304.1H301.5V281.2H325.5V286.6H349.5V265.8H373.5V237.4H397.5V240.1H421.5V240.5H445.5V273.6H469.5V237.7H493.5V261.0H517.5V303.8H541.5V306.0H565.5V304.5H589.5V311.2H613.5V331.6H637.5V370.6H661.5V336.0H685.5V356.7H709.5V351.3H733.5V346.3H757.5V350.6H781.5V359.2H794.0"/>
<path d="M121.0 281.2H133.5V366.2H157.5V326.6H181.5V376.2H205.5V374.4H229.5V366.3H253.5V323.9H277.5V291.7H301.5V283.7H325.5V289.6H349.5V256.6H373.5V232.9H397.5V249.1H421.5V279.2H445.5V269.3H469.5V241.4H493.5V252.2H517.5V267.5H541.5V287.9H565.5V306.9H589.5V310.1H613.5V338.7H637.5V360.6H661.5V349.9H685.5V350.4H709.5V349.3H733.5V339.7H757.5V353.0H781.5V348.1H794.0"/>
<path d="M121.0 316.5H133.5V359.3H157.5V325.1H181.5V336.9H205.5V329.1H229.5V342.8H253.5V322.5H277.5V308.4H301.5V301.7H325.5V274.2H349.5V224.9H373.5V224.3H397.5V239.6H421.5V266.0H445.5V265.0H469.5V248.1H493.5V253.2H517.5V266.4H541.5V289.6H565.5V316.1H589.5V299.4H613.5V343.9H637.5V356.9H661.5V346.8H685.5V358.8H709.5V348.6H733.5V367.8H757.5V353.8H781.5V355.3H794.0"/>
<path d="M121.0 351.4H133.5V384.4H157.5V330.2H181.5V332.8H205.5V346.1H229.5V315.3H253.5V307.7H277.5V342.7H301.5V285.0H325.5V278.1H349.5V246.3H373.5V248.8H397.5V242.0H421.5V250.4H445.5V270.2H469.5V249.9H493.5V272.4H517.5V264.2H541.5V291.1H565.5V291.7H589.5V316.8H613.5V345.6H637.5V347.4H661.5V331.0H685.5V350.3H709.5V351.1H733.5V378.8H757.5V385.0H781.5V346.4H794.0"/>
<path d="M121.0 288.6H133.5V369.5H157.5V341.2H181.5V360.8H205.5V376.5H229.5V317.7H253.5V357.8H277.5V299.3H301.5V277.8H325.5V267.3H349.5V242.8H373.5V224.5H397.5V233.6H421.5V270.1H445.5V250.8H469.5V236.8H493.5V244.8H517.5V273.9H541.5V288.7H565.5V316.5H589.5V304.7H613.5V332.7H637.5V358.9H661.5V348.9H685.5V378.5H709.5V380.3H733.5V361.3H757.5V331.2H781.5V342.2H794.0"/>
<path d="M121.0 363.4H133.5V376.1H157.5V346.5H181.5V352.4H205.5V342.6H229.5V365.4H253.5V346.5H277.5V316.6H301.5V322.2H325.5V277.7H349.5V226.0H373.5V241.4H397.5V233.0H421.5V226.3H445.5V254.8H469.5V227.8H493.5V264.2H517.5V267.3H541.5V289.4H565.5V308.6H589.5V331.4H613.5V347.3H637.5V350.9H661.5V357.2H685.5V363.4H709.5V346.6H733.5V380.9H757.5V338.5H781.5V349.7H794.0"/>
<path d="M121.0 399.2H133.5V364.7H157.5V383.8H181.5V338.8H205.5V345.3H229.5V353.5H253.5V331.0H277.5V314.0H301.5V270.9H325.5V269.6H349.5V242.0H373.5V237.0H397.5V238.5H421.5V272.5H445.5V226.6H469.5V238.7H493.5V253.9H517.5V289.4H541.5V270.9H565.5V323.9H589.5V302.2H613.5V337.8H637.5V362.7H661.5V334.6H685.5V360.6H709.5V379.9H733.5V352.9H757.5V363.6H781.5V323.4H794.0"/>
<path d="M121.0 306.1H133.5V366.4H157.5V355.9H181.5V360.9H205.5V352.6H229.5V351.7H253.5V362.5H277.5V308.3H301.5V281.7H325.5V273.9H349.5V231.8H373.5V249.9H397.5V246.3H421.5V255.7H445.5V257.1H469.5V233.9H493.5V235.0H517.5V280.5H541.5V282.3H565.5V289.5H589.5V319.2H613.5V335.9H637.5V359.7H661.5V351.8H685.5V364.2H709.5V344.2H733.5V368.0H757.5V338.6H781.5V365.0H794.0"/>
<path d="M121.0 341.2H133.5V359.0H157.5V372.3H181.5V329.6H205.5V351.9H229.5V312.4H253.5V326.6H277.5V311.6H301.5V284.1H325.5V270.5H349.5V233.8H373.5V254.3H397.5V246.1H421.5V225.5H445.5V260.0H469.5V230.2H493.5V270.8H517.5V298.4H541.5V288.9H565.5V288.4H589.5V299.8H613.5V326.5H637.5V378.3H661.5V342.2H685.5V335.8H709.5V369.5H733.5V356.2H757.5V349.1H781.5V333.5H794.0"/>
<path d="M121.0 297.7H133.5V319.3H157.5V325.8H181.5V353.9H205.5V354.6H229.5V315.5H253.5V329.3H277.5V303.0H301.5V308.5H325.5V253.4H349.5V247.5H373.5V239.9H397.5V266.7H421.5V233.2H445.5V282.9H469.5V240.8H493.5V251.6H517.5V266.0H541.5V267.4H565.5V291.7H589.5V316.0H613.5V322.5H637.5V355.4H661.5V352.6H685.5V355.0H709.5V340.2H733.5V341.3H757.5V357.1H781.5V320.7H794.0"/>
<path d="M121.0 380.1H133.5V330.1H157.5V305.7H181.5V353.7H205.5V334.4H229.5V327.1H253.5V313.7H277.5V302.7H301.5V303.0H325.5V298.5H349.5V229.9H373.5V268.3H397.5V255.5H421.5V230.9H445.5V269.0H469.5V240.4H493.5V238.4H517.5V307.7H541.5V322.0H565.5V303.2H589.5V337.3H613.5V327.3H637.5V356.3H661.5V334.4H685.5V331.2H709.5V361.3H733.5V352.9H757.5V346.2H781.5V336.0H794.0"/>
<path d="M121.0 291.2H133.5V302.5H157.5V350.1H181.5V389.2H205.5V343.8H229.5V344.8H253.5V341.0H277.5V290.4H301.5V294.5H325.5V295.9H349.5V235.2H373.5V216.6H397.5V261.0H421.5V243.3H445.5V255.9H469.5V243.6H493.5V269.1H517.5V313.3H541.5V290.5H565.5V288.5H589.5V301.9H613.5V340.5H637.5V371.2H661.5V325.2H685.5V338.6H709.5V347.9H733.5V349.4H757.5V323.3H781.5V355.6H794.0"/>
<path d="M121.0 298.2H133.5V324.8H157.5V348.2H181.5V331.1H205.5V325.4H229.5V334.4H253.5V315.4H277.5V292.3H301.5V291.9H325.5V285.8H349.5V227.9H373.5V239.5H397.5V244.4H421.5V237.3H445.5V257.6H469.5V247.4H493.5V269.7H517.5V252.7H541.5V299.6H565.5V282.2H589.5V310.0H613.5V340.0H637.5V359.1H661.5V350.2H685.5V363.8H709.5V363.0H733.5V361.5H757.5V349.7H781.5V320.5H794.0"/>
<path d="M121.0 325.0H133.5V346.0H157.5V351.7H181.5V361.3H205.5V356.4H229.5V332.5H253.5V304.3H277.5V317.6H301.5V278.5H325.5V282.3H349.5V222.2H373.5V224.9H397.5V241.1H421.5V229.3H445.5V245.2H469.5V244.1H493.5V263.8H517.5V300.2H541.5V282.0H565.5V299.0H589.5V315.3H613.5V322.7H637.5V370.0H661.5V338.5H685.5V342.6H709.5V353.9H733.5V359.5H757.5V351.1H781.5V350.5H794.0"/>
<path d="M121.0 323.7H133.5V379.2H157.5V356.9H181.5V351.2H205.5V342.3H229.5V341.9H253.5V322.6H277.5V301.9H301.5V293.2H325.5V274.1H349.5V234.6H373.5V251.9H397.5V226.0H421.5V253.0H445.5V273.2H469.5V237.0H493.5V254.6H517.5V309.1H541.5V282.2H565.5V303.0H589.5V327.9H613.5V327.7H637.5V374.4H661.5V345.1H685.5V340.1H709.5V357.9H733.5V340.4H757.5V358.5H781.5V326.5H794.0"/>
<path d="M121.0 363.6H133.5V341.5H157.5V363.8H181.5V341.5H205.5V317.8H229.5V356.5H253.5V301.6H277.5V299.9H301.5V329.8H325.5V285.1H349.5V242.9H373.5V268.0H397.5V242.9H421.5V244.8H445.5V251.6H469.5V231.3H493.5V242.9H517.5V300.3H541.5V288.4H565.5V312.9H589.5V329.6H613.5V325.9H637.5V355.2H661.5V335.0H685.5V351.2H709.5V350.6H733.5V366.8H757.5V343.8H781.5V312.3H794.0"/>
<path d="M121.0 359.0H133.5V346.3H157.5V339.7H181.5V339.4H205.5V321.1H229.5V345.0H253.5V352.6H277.5V326.8H301.5V330.3H325.5V273.1H349.5V225.6H373.5V258.0H397.5V223.5H421.5V268.5H445.5V247.7H469.5V241.7H493.5V272.0H517.5V286.5H541.5V265.7H565.5V311.9H589.5V320.2H613.5V333.0H637.5V345.8H661.5V343.2H685.5V356.2H709.5V347.3H733.5V365.8H757.5V352.0H781.5V332.0H794.0"/>
<path d="M121.0 330.0H133.5V342.2H157.5V340.2H181.5V329.9H205.5V372.6H229.5V353.6H253.5V366.6H277.5V301.7H301.5V326.3H325.5V291.4H349.5V229.8H373.5V236.4H397.5V225.8H421.5V247.0H445.5V254.2H469.5V240.7H493.5V267.2H517.5V250.7H541.5V292.8H565.5V291.1H589.5V305.9H613.5V327.9H637.5V356.3H661.5V343.4H685.5V348.3H709.5V380.5H733.5V358.5H757.5V360.2H781.5V354.9H794.0"/>
<path d="M121.0 337.0H133.5V303.3H157.5V335.4H181.5V316.8H205.5V350.7H229.5V298.0H253.5V329.8H277.5V317.1H301.5V302.7H325.5V284.3H349.5V241.0H373.5V240.5H397.5V266.9H421.5V268.4H445.5V237.7H469.5V262.2H493.5V255.9H517.5V253.6H541.5V267.4H565.5V299.0H589.5V296.1H613.5V344.7H637.5V375.4H661.5V359.7H685.5V369.0H709.5V373.1H733.5V343.7H757.5V352.3H781.5V323.0H794.0"/>
<path d="M121.0 359.0H133.5V311.6H157.5V389.0H181.5V357.4H205.5V339.9H229.5V340.3H253.5V351.6H277.5V325.5H301.5V302.3H325.5V257.7H349.5V263.8H373.5V256.2H397.5V235.3H421.5V266.1H445.5V271.9H469.5V236.0H493.5V255.7H517.5V279.4H541.5V274.2H565.5V304.0H589.5V322.1H613.5V322.7H637.5V353.6H661.5V358.0H685.5V356.0H709.5V351.3H733.5V359.7H757.5V335.2H781.5V327.6H794.0"/>
<path d="M121.0 361.1H133.5V342.6H157.5V330.9H181.5V363.8H205.5V329.4H229.5V312.0H253.5V339.6H277.5V309.1H301.5V281.7H325.5V278.1H349.5V234.6H373.5V228.5H397.5V261.9H421.5V275.2H445.5V271.0H469.5V242.4H493.5V246.1H517.5V264.4H541.5V299.4H565.5V293.5H589.5V288.2H613.5V345.2H637.5V374.4H661.5V346.7H685.5V363.3H709.5V359.1H733.5V377.8H757.5V328.0H781.5V321.6H794.0"/>
<path d="M121.0 327.3H133.5V319.2H157.5V342.4H181.5V373.4H205.5V365.3H229.5V359.6H253.5V354.5H277.5V301.0H301.5V308.0H325.5V287.6H349.5V244.3H373.5V223.1H397.5V235.5H421.5V249.6H445.5V266.3H469.5V258.4H493.5V247.9H517.5V286.6H541.5V282.9H565.5V308.4H589.5V317.6H613.5V343.2H637.5V354.0H661.5V341.3H685.5V360.6H709.5V354.2H733.5V361.7H757.5V324.4H781.5V325.2H794.0"/>
<path d="M121.0 282.5H133.5V384.1H157.5V338.0H181.5V339.1H205.5V363.8H229.5V317.8H253.5V318.2H277.5V325.2H301.5V305.2H325.5V259.9H349.5V242.8H373.5V214.4H397.5V243.5H421.5V265.6H445.5V282.5H469.5V240.2H493.5V243.0H517.5V287.4H541.5V271.8H565.5V278.9H589.5V324.7H613.5V339.4H637.5V365.9H661.5V328.5H685.5V362.0H709.5V372.5H733.5V337.8H757.5V343.0H781.5V366.7H794.0"/>
<path d="M121.0 291.1H133.5V370.9H157.5V314.8H181.5V342.4H205.5V326.2H229.5V311.7H253.5V311.1H277.5V308.0H301.5V303.4H325.5V288.1H349.5V233.2H373.5V234.5H397.5V233.9H421.5V261.6H445.5V270.6H469.5V226.0H493.5V238.5H517.5V266.1H541.5V279.5H565.5V310.2H589.5V312.9H613.5V350.3H637.5V346.7H661.5V341.1H685.5V351.6H709.5V372.0H733.5V361.8H757.5V329.9H781.5V355.1H794.0"/>
<path d="M121.0 397.7H133.5V405.7H157.5V379.1H181.5V339.7H205.5V353.5H229.5V333.4H253.5V312.1H277.5V296.1H301.5V304.0H325.5V265.5H349.5V233.3H373.5V241.8H397.5V245.2H421.5V277.1H445.5V267.6H469.5V235.2H493.5V256.1H517.5V300.9H541.5V288.2H565.5V296.8H589.5V317.4H613.5V329.7H637.5V363.1H661.5V355.6H685.5V363.0H709.5V362.1H733.5V360.3H757.5V371.5H781.5V335.0H794.0"/>
<path d="M121.0 335.2H133.5V339.1H157.5V334.9H181.5V349.3H205.5V378.0H229.5V387.7H253.5V315.6H277.5V284.9H301.5V274.0H325.5V292.3H349.5V226.7H373.5V230.7H397.5V256.7H421.5V253.9H445.5V269.9H469.5V225.2H493.5V234.5H517.5V279.7H541.5V286.5H565.5V309.7H589.5V317.3H613.5V340.1H637.5V341.2H661.5V327.3H685.5V353.5H709.5V353.0H733.5V351.5H757.5V324.3H781.5V328.5H794.0"/>
<path d="M121.0 294.9H133.5V365.4H157.5V353.4H181.5V406.8H205.5V360.7H229.5V305.8H253.5V336.5H277.5V333.0H301.5V297.5H325.5V279.7H349.5V255.1H373.5V257.0H397.5V231.6H421.5V240.6H445.5V262.3H469.5V260.1H493.5V248.8H517.5V261.2H541.5V304.9H565.5V320.3H589.5V326.8H613.5V339.9H637.5V358.2H661.5V323.9H685.5V343.5H709.5V347.6H733.5V355.6H757.5V342.6H781.5V360.4H794.0"/>
<path d="M121.0 321.1H133.5V340.6H157.5V337.6H181.5V374.0H205.5V348.4H229.5V334.1H253.5V305.1H277.5V297.3H301.5V310.3H325.5V286.3H349.5V244.1H373.5V255.0H397.5V247.9H421.5V233.6H445.5V265.9H469.5V249.2H493.5V243.8H517.5V309.1H541.5V306.3H565.5V297.0H589.5V294.8H613.5V335.3H637.5V361.0H661.5V337.3H685.5V363.4H709.5V362.2H733.5V370.8H757.5V386.2H781.5V362.0H794.0"/>
<path d="M121.0 328.1H133.5V370.3H157.5V384.2H181.5V321.5H205.5V358.5H229.5V301.0H253.5V353.6H277.5V325.3H301.5V280.5H325.5V253.3H349.5V242.6H373.5V233.9H397.5V252.1H421.5V227.4H445.5V254.1H469.5V238.6H493.5V254.2H517.5V286.6H541.5V285.5H565.5V294.0H589.5V286.4H613.5V334.9H637.5V360.2H661.5V338.9H685.5V357.0H709.5V342.2H733.5V350.3H757.5V344.7H781.5V339.8H794.0"/>
<path d="M121.0 355.7H133.5V375.2H157.5V364.7H181.5V353.9H205.5V360.2H229.5V331.2H253.5V313.0H277.5V320.3H301.5V267.3H325.5V256.9H349.5V262.6H373.5V232.5H397.5V244.3H421.5V231.4H445.5V262.6H469.5V234.7H493.5V247.8H517.5V292.5H541.5V284.6H565.5V301.9H589.5V315.7H613.5V322.5H637.5V351.8H661.5V353.4H685.5V368.4H709.5V351.3H733.5V356.9H757.5V339.8H781.5V361.2H794.0"/>
<path d="M121.0 335.6H133.5V362.6H157.5V334.3H181.5V310.9H205.5V334.8H229.5V318.7H253.5V322.0H277.5V309.9H301.5V303.1H325.5V281.3H349.5V235.4H373.5V253.7H397.5V230.2H421.5V254.1H445.5V274.1H469.5V237.1H493.5V277.3H517.5V257.4H541.5V295.0H565.5V285.9H589.5V317.1H613.5V329.5H637.5V371.6H661.5V334.9H685.5V345.2H709.5V359.8H733.5V354.8H757.5V353.7H781.5V347.5H794.0"/>
<path d="M121.0 306.4H133.5V328.5H157.5V347.5H181.5V326.0H205.5V329.5H229.5V322.4H253.5V372.4H277.5V316.5H301.5V277.2H325.5V269.3H349.5V237.3H373.5V234.5H397.5V232.4H421.5V255.8H445.5V233.3H469.5V227.6H493.5V244.0H517.5V279.5H541.5V301.1H565.5V306.1H589.5V304.4H613.5V325.5H637.5V356.1H661.5V350.2H685.5V351.8H709.5V355.6H733.5V355.9H757.5V342.8H781.5V337.8H794.0"/>
<path d="M121.0 289.4H133.5V356.5H157.5V349.6H181.5V322.3H205.5V362.0H229.5V305.6H253.5V312.8H277.5V317.4H301.5V316.3H325.5V291.2H349.5V271.0H373.5V224.1H397.5V238.6H421.5V259.5H445.5V258.7H469.5V232.2H493.5V252.6H517.5V318.3H541.5V311.7H565.5V295.3H589.5V309.5H613.5V318.6H637.5V379.5H661.5V330.2H685.5V365.1H709.5V347.8H733.5V357.2H757.5V352.3H781.5V334.0H794.0"/>
<path d="M121.0 317.0H133.5V318.4H157.5V354.5H181.5V321.2H205.5V356.6H229.5V357.8H253.5V366.8H277.5V292.7H301.5V314.7H325.5V293.4H349.5V233.5H373.5V224.2H397.5V242.7H421.5V261.5H445.5V269.4H469.5V238.5H493.5V272.2H517.5V290.6H541.5V294.5H565.5V294.4H589.5V313.8H613.5V332.2H637.5V348.7H661.5V354.1H685.5V360.8H709.5V348.4H733.5V337.4H757.5V339.5H781.5V345.0H794.0"/>
<path d="M121.0 410.3H133.5V364.0H157.5V374.5H181.5V352.3H205.5V353.8H229.5V339.3H253.5V341.3H277.5V307.1H301.5V299.1H325.5V277.9H349.5V271.7H373.5V228.9H397.5V248.3H421.5V237.6H445.5V263.4H469.5V239.4H493.5V260.8H517.5V273.9H541.5V310.1H565.5V293.5H589.5V315.1H613.5V335.4H637.5V351.4H661.5V330.2H685.5V359.7H709.5V336.8H733.5V362.0H757.5V373.4H781.5V373.4H794.0"/>
<path d="M121.0 307.1H133.5V326.0H157.5V340.4H181.5V345.4H205.5V350.9H229.5V357.4H253.5V355.2H277.5V311.8H301.5V277.9H325.5V264.2H349.5V230.1H373.5V232.0H397.5V230.9H421.5V256.6H445.5V236.0H469.5V264.4H493.5V246.3H517.5V300.6H541.5V289.7H565.5V303.2H589.5V308.3H613.5V325.9H637.5V338.3H661.5V340.0H685.5V336.1H709.5V353.2H733.5V350.4H757.5V352.5H781.5V341.9H794.0"/>
<path d="M121.0 355.0H133.5V351.4H157.5V329.2H181.5V413.3H205.5V369.2H229.5V350.7H253.5V374.3H277.5V286.8H301.5V307.4H325.5V276.7H349.5V237.5H373.5V232.3H397.5V239.3H421.5V257.9H445.5V261.0H469.5V240.1H493.5V260.6H517.5V259.8H541.5V280.9H565.5V291.6H589.5V316.4H613.5V340.2H637.5V355.3H661.5V359.6H685.5V339.7H709.5V363.3H733.5V345.0H757.5V347.2H781.5V359.2H794.0"/>
<path d="M121.0 402.1H133.5V336.4H157.5V348.2H181.5V322.2H205.5V339.7H229.5V358.8H253.5V323.8H277.5V315.6H301.5V321.7H325.5V297.9H349.5V235.3H373.5V273.5H397.5V248.6H421.5V223.8H445.5V252.8H469.5V243.0H493.5V260.0H517.5V312.3H541.5V303.4H565.5V288.2H589.5V328.1H613.5V347.0H637.5V361.1H661.5V332.7H685.5V357.1H709.5V351.6H733.5V360.6H757.5V377.0H781.5V311.3H794.0"/>
<path d="M121.0 390.8H133.5V331.7H157.5V388.9H181.5V361.6H205.5V333.8H229.5V365.2H253.5V314.1H277.5V306.9H301.5V303.8H325.5V280.5H349.5V228.0H373.5V237.5H397.5V230.9H421.5V267.0H445.5V229.1H469.5V244.9H493.5V266.9H517.5V264.8H541.5V297.9H565.5V282.2H589.5V295.0H613.5V340.3H637.5V372.3H661.5V347.2H685.5V374.4H709.5V334.9H733.5V345.8H757.5V351.2H781.5V359.0H794.0"/>
<path d="M121.0 319.4H133.5V347.7H157.5V311.8H181.5V420.1H205.5V329.5H229.5V315.7H253.5V347.0H277.5V305.7H301.5V284.0H325.5V274.9H349.5V273.3H373.5V230.9H397.5V246.8H421.5V266.5H445.5V245.8H469.5V234.5H493.5V272.7H517.5V285.9H541.5V297.1H565.5V300.8H589.5V315.4H613.5V324.4H637.5V354.1H661.5V352.2H685.5V355.0H709.5V357.5H733.5V357.4H757.5V333.0H781.5V352.9H794.0"/>
<path d="M121.0 309.8H133.5V374.0H157.5V348.8H181.5V319.5H205.5V375.6H229.5V303.5H253.5V332.3H277.5V332.9H301.5V309.2H325.5V261.9H349.5V237.2H373.5V243.2H397.5V239.6H421.5V262.5H445.5V259.3H469.5V242.2H493.5V259.9H517.5V289.8H541.5V271.5H565.5V299.6H589.5V310.3H613.5V336.5H637.5V362.3H661.5V346.0H685.5V364.6H709.5V354.4H733.5V350.1H757.5V358.7H781.5V358.8H794.0"/>
<path d="M121.0 297.2H133.5V379.8H157.5V317.2H181.5V318.3H205.5V344.6H229.5V360.4H253.5V338.2H277.5V304.0H301.5V317.0H325.5V273.3H349.5V248.8H373.5V226.0H397.5V254.0H421.5V223.8H445.5V281.8H469.5V229.6H493.5V249.4H517.5V276.7H541.5V301.8H565.5V295.4H589.5V323.3H613.5V334.3H637.5V371.1H661.5V352.6H685.5V347.2H709.5V359.8H733.5V353.2H757.5V344.3H781.5V311.9H794.0"/>
<path d="M121.0 338.3H133.5V346.0H157.5V382.5H181.5V414.8H205.5V359.6H229.5V337.1H253.5V326.2H277.5V316.9H301.5V281.7H325.5V285.4H349.5V236.7H373.5V237.4H397.5V253.6H421.5V256.0H445.5V266.6H469.5V242.0H493.5V268.8H517.5V280.5H541.5V283.6H565.5V304.7H589.5V322.8H613.5V324.8H637.5V342.0H661.5V355.4H685.5V352.9H709.5V354.1H733.5V349.6H757.5V361.3H781.5V326.1H794.0"/>
<path d="M121.0 386.2H133.5V361.1H157.5V334.7H181.5V328.0H205.5V372.2H229.5V369.7H253.5V358.7H277.5V307.9H301.5V269.2H325.5V270.0H349.5V270.9H373.5V252.6H397.5V231.9H421.5V267.7H445.5V269.8H469.5V274.4H493.5V245.5H517.5V301.7H541.5V300.7H565.5V320.9H589.5V315.8H613.5V348.2H637.5V353.7H661.5V343.5H685.5V343.8H709.5V337.5H733.5V362.6H757.5V349.0H781.5V333.4H794.0"/>
<path d="M121.0 325.9H133.5V382.4H157.5V316.0H181.5V351.2H205.5V348.8H229.5V384.2H253.5V331.0H277.5V322.1H301.5V314.8H325.5V285.8H349.5V244.7H373.5V226.8H397.5V247.1H421.5V274.2H445.5V256.6H469.5V245.6H493.5V270.5H517.5V278.0H541.5V282.8H565.5V316.1H589.5V308.5H613.5V331.6H637.5V376.3H661.5V354.1H685.5V368.8H709.5V346.3H733.5V357.4H757.5V353.2H781.5V338.1H794.0"/>
<path d="M121.0 397.2H133.5V366.9H157.5V387.1H181.5V312.8H205.5V344.1H229.5V366.5H253.5V314.3H277.5V308.9H301.5V328.1H325.5V253.3H349.5V244.3H373.5V230.6H397.5V241.1H421.5V237.2H445.5V262.5H469.5V238.3H493.5V236.4H517.5V275.7H541.5V322.1H565.5V297.1H589.5V290.2H613.5V342.1H637.5V358.5H661.5V330.6H685.5V363.3H709.5V346.0H733.5V363.9H757.5V355.3H781.5V310.9H794.0"/>
<path d="M121.0 302.3H133.5V400.9H157.5V307.3H181.5V337.6H205.5V347.7H229.5V352.4H253.5V308.7H277.5V346.0H301.5V295.3H325.5V277.4H349.5V241.9H373.5V235.5H397.5V240.4H421.5V223.0H445.5V277.3H469.5V239.4H493.5V245.7H517.5V286.3H541.5V280.6H565.5V295.7H589.5V336.6H613.5V321.7H637.5V368.3H661.5V347.0H685.5V362.2H709.5V382.7H733.5V363.3H757.5V353.8H781.5V371.0H794.0"/>
<path d="M121.0 347.5H133.5V339.6H157.5V365.3H181.5V323.6H205.5V373.2H229.5V321.2H253.5V323.3H277.5V322.6H301.5V302.3H325.5V279.2H349.5V251.1H373.5V223.6H397.5V239.1H421.5V256.8H445.5V251.3H469.5V249.7H493.5V261.0H517.5V282.5H541.5V288.4H565.5V293.8H589.5V297.1H613.5V342.4H637.5V352.3H661.5V329.5H685.5V374.9H709.5V358.6H733.5V359.6H757.5V364.3H781.5V332.2H794.0"/>
<path d="M121.0 320.3H133.5V376.2H157.5V369.4H181.5V364.2H205.5V377.5H229.5V371.2H253.5V348.7H277.5V298.3H301.5V302.7H325.5V288.6H349.5V233.9H373.5V240.5H397.5V247.9H421.5V255.9H445.5V266.4H469.5V270.8H493.5V238.9H517.5V276.0H541.5V277.5H565.5V315.4H589.5V310.9H613.5V329.5H637.5V357.5H661.5V325.2H685.5V340.4H709.5V338.8H733.5V367.5H757.5V348.4H781.5V330.4H794.0"/>
<path d="M121.0 299.8H133.5V370.9H157.5V346.0H181.5V344.2H205.5V331.8H229.5V363.3H253.5V311.7H277.5V323.2H301.5V273.3H325.5V261.9H349.5V261.7H373.5V250.9H397.5V249.9H421.5V254.7H445.5V262.8H469.5V233.3H493.5V267.3H517.5V278.6H541.5V296.9H565.5V285.9H589.5V321.2H613.5V332.0H637.5V369.4H661.5V340.8H685.5V378.3H709.5V353.9H733.5V365.3H757.5V353.8H781.5V344.3H794.0"/>
<path d="M121.0 361.4H133.5V326.8H157.5V375.8H181.5V353.4H205.5V386.3H229.5V320.2H253.5V310.6H277.5V304.2H301.5V299.6H325.5V280.4H349.5V262.7H373.5V234.3H397.5V241.8H421.5V234.1H445.5V263.0H469.5V233.3H493.5V273.0H517.5V272.4H541.5V294.6H565.5V300.0H589.5V336.7H613.5V325.2H637.5V376.2H661.5V347.5H685.5V371.2H709.5V367.1H733.5V352.5H757.5V342.6H781.5V343.0H794.0"/>
<path d="M121.0 358.1H133.5V350.3H157.5V336.6H181.5V325.5H205.5V339.7H229.5V316.4H253.5V351.5H277.5V279.0H301.5V281.4H325.5V273.4H349.5V226.7H373.5V222.3H397.5V239.7H421.5V267.7H445.5V267.7H469.5V236.2H493.5V244.6H517.5V271.6H541.5V309.7H565.5V289.2H589.5V316.6H613.5V338.6H637.5V356.2H661.5V326.8H685.5V355.5H709.5V342.6H733.5V362.4H757.5V348.9H781.5V348.7H794.0"/>
<path d="M121.0 327.4H133.5V358.1H157.5V349.1H181.5V329.0H205.5V361.7H229.5V320.6H253.5V324.8H277.5V284.7H301.5V321.4H325.5V264.0H349.5V225.5H373.5V225.5H397.5V247.1H421.5V247.0H445.5V249.8H469.5V236.0H493.5V248.9H517.5V291.4H541.5V282.6H565.5V292.0H589.5V290.7H613.5V337.0H637.5V371.7H661.5V340.3H685.5V351.6H709.5V367.2H733.5V348.4H757.5V342.9H781.5V315.5H794.0"/>
<path d="M121.0 289.9H133.5V367.6H157.5V370.5H181.5V340.4H205.5V374.9H229.5V331.3H253.5V323.6H277.5V285.5H301.5V288.4H325.5V280.2H349.5V249.8H373.5V253.6H397.5V247.5H421.5V267.7H445.5V259.2H469.5V273.5H493.5V253.1H517.5V282.2H541.5V294.7H565.5V295.1H589.5V308.7H613.5V345.4H637.5V363.3H661.5V336.9H685.5V348.7H709.5V361.0H733.5V358.7H757.5V348.5H781.5V355.1H794.0"/>
<path d="M121.0 414.9H133.5V408.9H157.5V353.8H181.5V399.0H205.5V336.8H229.5V373.0H253.5V349.7H277.5V312.6H301.5V287.9H325.5V281.0H349.5V224.5H373.5V231.8H397.5V241.4H421.5V239.6H445.5V263.6H469.5V242.7H493.5V265.4H517.5V303.7H541.5V289.8H565.5V293.4H589.5V295.7H613.5V349.2H637.5V348.0H661.5V342.2H685.5V353.2H709.5V362.8H733.5V369.6H757.5V329.2H781.5V319.9H794.0"/>
<path d="M121.0 300.9H133.5V353.4H157.5V370.7H181.5V349.1H205.5V389.0H229.5V331.9H253.5V323.5H277.5V325.3H301.5V271.5H325.5V268.3H349.5V239.8H373.5V235.2H397.5V231.8H421.5V251.3H445.5V247.4H469.5V242.0H493.5V272.7H517.5V258.9H541.5V282.6H565.5V277.1H589.5V295.8H613.5V336.5H637.5V337.2H661.5V342.5H685.5V345.2H709.5V341.8H733.5V352.3H757.5V359.9H781.5V351.9H794.0"/>
<path d="M121.0 279.6H133.5V338.3H157.5V398.4H181.5V350.1H205.5V360.3H229.5V324.8H253.5V330.3H277.5V287.2H301.5V318.5H325.5V278.3H349.5V235.4H373.5V229.7H397.5V229.0H421.5V266.4H445.5V274.7H469.5V234.0H493.5V271.8H517.5V269.9H541.5V289.0H565.5V279.0H589.5V305.8H613.5V347.5H637.5V337.5H661.5V344.1H685.5V357.0H709.5V353.3H733.5V382.5H757.5V329.7H781.5V335.5H794.0"/>
<path d="M121.0 296.3H133.5V341.1H157.5V316.5H181.5V334.3H205.5V328.1H229.5V327.4H253.5V349.1H277.5V300.5H301.5V282.5H325.5V257.7H349.5V229.6H373.5V269.3H397.5V247.6H421.5V244.0H445.5V268.5H469.5V233.8H493.5V259.2H517.5V292.3H541.5V283.3H565.5V311.5H589.5V307.5H613.5V333.3H637.5V355.3H661.5V345.9H685.5V359.1H709.5V351.3H733.5V356.7H757.5V350.1H781.5V319.2H794.0"/>
<path d="M121.0 302.8H133.5V370.9H157.5V334.2H181.5V354.4H205.5V329.0H229.5V354.3H253.5V345.2H277.5V308.7H301.5V305.8H325.5V278.7H349.5V239.3H373.5V243.2H397.5V242.2H421.5V234.4H445.5V264.3H469.5V235.3H493.5V269.3H517.5V270.5H541.5V269.8H565.5V295.7H589.5V290.9H613.5V328.1H637.5V356.8H661.5V332.4H685.5V349.5H709.5V374.8H733.5V364.8H757.5V354.4H781.5V357.1H794.0"/>
<path d="M121.0 305.3H133.5V329.2H157.5V400.9H181.5V414.4H205.5V366.5H229.5V353.6H253.5V353.1H277.5V316.2H301.5V295.1H325.5V254.1H349.5V229.8H373.5V231.6H397.5V250.0H421.5V267.5H445.5V249.4H469.5V227.2H493.5V269.3H517.5V272.2H541.5V278.6H565.5V282.8H589.5V293.3H613.5V329.6H637.5V379.6H661.5V353.2H685.5V338.0H709.5V356.2H733.5V371.5H757.5V340.2H781.5V321.0H794.0"/>
<path d="M121.0 316.5H133.5V367.3H157.5V395.4H181.5V355.4H205.5V362.1H229.5V334.2H253.5V336.0H277.5V312.0H301.5V330.1H325.5V261.0H349.5V233.1H373.5V239.4H397.5V257.9H421.5V254.9H445.5V271.8H469.5V236.0H493.5V273.8H517.5V291.6H541.5V286.3H565.5V294.2H589.5V332.5H613.5V343.8H637.5V336.0H661.5V347.0H685.5V338.9H709.5V340.9H733.5V356.6H757.5V355.8H781.5V347.4H794.0"/>
<path d="M121.0 303.9H133.5V389.1H157.5V327.2H181.5V389.4H205.5V336.7H229.5V356.7H253.5V351.6H277.5V331.3H301.5V266.0H325.5V282.7H349.5V222.2H373.5V219.8H397.5V241.8H421.5V245.8H445.5V244.7H469.5V246.6H493.5V261.2H517.5V286.4H541.5V284.6H565.5V314.7H589.5V312.1H613.5V334.1H637.5V371.0H661.5V341.3H685.5V363.1H709.5V348.4H733.5V349.9H757.5V351.5H781.5V337.8H794.0"/>
<path d="M121.0 336.8H133.5V352.8H157.5V378.8H181.5V402.1H205.5V349.3H229.5V337.1H253.5V325.1H277.5V302.8H301.5V277.2H325.5V278.6H349.5V238.0H373.5V219.2H397.5V258.4H421.5V226.5H445.5V264.1H469.5V251.2H493.5V244.8H517.5V261.4H541.5V279.5H565.5V320.5H589.5V313.2H613.5V340.4H637.5V336.3H661.5V333.7H685.5V350.0H709.5V356.1H733.5V345.2H757.5V324.1H781.5V330.3H794.0"/>
<path d="M121.0 288.5H133.5V378.3H157.5V326.9H181.5V355.4H205.5V345.3H229.5V317.2H253.5V343.2H277.5V294.9H301.5V272.3H325.5V266.1H349.5V247.7H373.5V243.2H397.5V230.6H421.5V262.2H445.5V247.9H469.5V235.6H493.5V236.4H517.5V281.3H541.5V292.1H565.5V295.9H589.5V312.2H613.5V332.4H637.5V372.9H661.5V359.7H685.5V346.9H709.5V371.5H733.5V346.3H757.5V345.3H781.5V373.0H794.0"/>
<path d="M121.0 284.1H133.5V401.2H157.5V336.3H181.5V370.8H205.5V324.8H229.5V329.1H253.5V367.9H277.5V304.5H301.5V291.3H325.5V272.8H349.5V232.8H373.5V244.3H397.5V219.3H421.5V259.1H445.5V245.2H469.5V251.4H493.5V255.6H517.5V269.0H541.5V286.4H565.5V295.9H589.5V332.8H613.5V330.7H637.5V366.1H661.5V343.6H685.5V341.3H709.5V349.6H733.5V361.9H757.5V345.2H781.5V359.0H794.0"/>
<path d="M121.0 375.0H133.5V314.8H157.5V350.8H181.5V379.9H205.5V334.6H229.5V355.5H253.5V341.1H277.5V305.9H301.5V318.3H325.5V293.0H349.5V243.4H373.5V252.6H397.5V250.7H421.5V236.6H445.5V260.9H469.5V252.9H493.5V255.3H517.5V259.5H541.5V301.8H565.5V296.1H589.5V286.5H613.5V350.7H637.5V339.4H661.5V331.8H685.5V343.4H709.5V359.2H733.5V369.1H757.5V351.8H781.5V335.8H794.0"/>
<path d="M121.0 369.8H133.5V328.7H157.5V355.1H181.5V354.6H205.5V347.0H229.5V355.2H253.5V347.7H277.5V340.4H301.5V283.3H325.5V282.0H349.5V236.0H373.5V251.5H397.5V242.7H421.5V266.4H445.5V238.2H469.5V227.8H493.5V261.9H517.5V298.8H541.5V294.2H565.5V320.4H589.5V296.2H613.5V320.3H637.5V349.4H661.5V337.6H685.5V354.3H709.5V354.5H733.5V366.0H757.5V352.7H781.5V353.7H794.0"/>
<path d="M121.0 342.7H133.5V322.8H157.5V336.6H181.5V383.0H205.5V347.2H229.5V351.7H253.5V338.2H277.5V278.9H301.5V316.9H325.5V263.0H349.5V235.8H373.5V260.8H397.5V227.5H421.5V277.5H445.5V283.5H469.5V238.7H493.5V234.9H517.5V276.1H541.5V287.5H565.5V291.0H589.5V285.5H613.5V329.4H637.5V358.1H661.5V332.8H685.5V353.2H709.5V374.0H733.5V345.2H757.5V350.1H781.5V306.4H794.0"/>
<path d="M121.0 318.7H133.5V341.8H157.5V366.6H181.5V346.7H205.5V326.5H229.5V360.9H253.5V347.7H277.5V306.6H301.5V317.2H325.5V295.5H349.5V234.2H373.5V215.4H397.5V262.0H421.5V237.4H445.5V258.0H469.5V242.5H493.5V234.6H517.5V271.6H541.5V294.8H565.5V295.6H589.5V304.9H613.5V339.0H637.5V342.2H661.5V334.8H685.5V356.7H709.5V338.4H733.5V372.4H757.5V331.1H781.5V341.4H794.0"/>
<path d="M121.0 370.5H133.5V387.5H157.5V329.5H181.5V351.8H205.5V342.0H229.5V360.8H253.5V337.6H277.5V328.0H301.5V277.6H325.5V287.1H349.5V236.1H373.5V229.1H397.5V236.5H421.5V225.4H445.5V242.6H469.5V238.4H493.5V248.9H517.5V257.7H541.5V284.2H565.5V319.1H589.5V292.4H613.5V348.9H637.5V346.4H661.5V327.2H685.5V369.8H709.5V349.6H733.5V368.6H757.5V372.0H781.5V353.2H794.0"/>
<path d="M121.0 350.1H133.5V332.2H157.5V372.7H181.5V353.5H205.5V367.5H229.5V381.7H253.5V303.6H277.5V300.6H301.5V293.0H325.5V268.4H349.5V233.3H373.5V231.4H397.5V244.9H421.5V245.1H445.5V249.8H469.5V237.1H493.5V263.7H517.5V287.9H541.5V264.0H565.5V310.2H589.5V317.3H613.5V351.6H637.5V356.5H661.5V336.2H685.5V342.5H709.5V336.0H733.5V356.3H757.5V349.8H781.5V340.0H794.0"/>
<path d="M121.0 362.7H133.5V368.0H157.5V333.2H181.5V330.0H205.5V344.0H229.5V352.3H253.5V365.4H277.5V314.7H301.5V310.8H325.5V278.6H349.5V226.6H373.5V219.4H397.5V233.0H421.5V232.5H445.5V283.1H469.5V250.4H493.5V273.5H517.5V292.8H541.5V289.1H565.5V287.2H589.5V319.8H613.5V324.4H637.5V347.3H661.5V348.8H685.5V362.2H709.5V346.6H733.5V354.6H757.5V326.6H781.5V354.2H794.0"/>
<path d="M121.0 288.2H133.5V357.7H157.5V390.9H181.5V338.2H205.5V355.9H229.5V374.1H253.5V316.2H277.5V319.0H301.5V301.4H325.5V265.4H349.5V239.6H373.5V221.4H397.5V252.5H421.5V241.8H445.5V264.0H469.5V251.3H493.5V266.4H517.5V306.2H541.5V266.1H565.5V290.7H589.5V301.6H613.5V347.1H637.5V358.5H661.5V350.8H685.5V336.1H709.5V364.7H733.5V348.1H757.5V344.0H781.5V310.0H794.0"/>
<path d="M121.0 296.1H133.5V328.2H157.5V367.8H181.5V367.4H205.5V321.0H229.5V312.2H253.5V318.2H277.5V300.2H301.5V294.1H325.5V253.6H349.5V243.9H373.5V241.0H397.5V246.6H421.5V234.5H445.5V271.0H469.5V244.7H493.5V244.9H517.5V287.0H541.5V277.8H565.5V300.3H589.5V304.4H613.5V340.7H637.5V346.5H661.5V339.3H685.5V348.6H709.5V343.6H733.5V354.7H757.5V344.7H781.5V351.6H794.0"/>
<path d="M121.0 292.5H133.5V344.6H157.5V365.2H181.5V357.2H205.5V365.7H229.5V311.4H253.5V336.0H277.5V317.5H301.5V303.5H325.5V279.7H349.5V259.8H373.5V227.3H397.5V224.6H421.5V267.0H445.5V271.0H469.5V233.0H493.5V269.1H517.5V285.4H541.5V285.2H565.5V278.4H589.5V316.6H613.5V339.4H637.5V346.4H661.5V351.7H685.5V347.1H709.5V345.2H733.5V335.6H757.5V343.5H781.5V367.1H794.0"/>
<path d="M121.0 318.4H133.5V305.4H157.5V350.9H181.5V346.7H205.5V324.6H229.5V319.6H253.5V344.3H277.5V287.0H301.5V300.6H325.5V266.5H349.5V232.2H373.5V245.1H397.5V244.7H421.5V265.1H445.5V241.3H469.5V246.0H493.5V273.6H517.5V262.8H541.5V290.2H565.5V286.2H589.5V335.8H613.5V347.5H637.5V349.9H661.5V339.4H685.5V360.3H709.5V333.8H733.5V358.3H757.5V336.5H781.5V351.3H794.0"/>
<path d="M121.0 330.4H133.5V328.8H157.5V347.8H181.5V310.0H205.5V319.9H229.5V358.9H253.5V321.0H277.5V332.9H301.5V306.5H325.5V288.3H349.5V256.2H373.5V247.2H397.5V227.5H421.5V247.2H445.5V267.7H469.5V235.6H493.5V239.0H517.5V253.0H541.5V266.9H565.5V302.9H589.5V336.8H613.5V335.8H637.5V347.9H661.5V353.3H685.5V345.6H709.5V372.2H733.5V358.3H757.5V340.9H781.5V310.5H794.0"/>
<path d="M121.0 363.0H133.5V327.6H157.5V357.6H181.5V305.8H205.5V370.4H229.5V317.6H253.5V308.9H277.5V300.1H301.5V322.3H325.5V283.8H349.5V235.6H373.5V233.0H397.5V244.8H421.5V255.2H445.5V247.5H469.5V231.4H493.5V277.0H517.5V267.1H541.5V268.3H565.5V297.7H589.5V316.7H613.5V351.3H637.5V345.2H661.5V349.5H685.5V355.3H709.5V351.4H733.5V368.9H757.5V336.1H781.5V353.6H794.0"/>
<path d="M121.0 302.9H133.5V352.7H157.5V339.1H181.5V407.0H205.5V378.3H229.5V330.8H253.5V326.0H277.5V285.6H301.5V324.8H325.5V268.8H349.5V244.1H373.5V235.3H397.5V234.8H421.5V273.8H445.5V275.7H469.5V224.4H493.5V276.1H517.5V269.1H541.5V302.9H565.5V288.5H589.5V310.0H613.5V328.0H637.5V344.0H661.5V361.4H685.5V338.9H709.5V334.1H733.5V365.6H757.5V339.3H781.5V322.7H794.0"/>
<path d="M121.0 316.7H133.5V387.4H157.5V375.1H181.5V343.8H205.5V361.0H229.5V371.0H253.5V341.5H277.5V314.5H301.5V296.6H325.5V284.2H349.5V239.4H373.5V225.5H397.5V228.6H421.5V223.7H445.5V255.0H469.5V246.3H493.5V251.8H517.5V261.5H541.5V278.2H565.5V299.8H589.5V302.1H613.5V352.4H637.5V343.1H661.5V341.0H685.5V339.8H709.5V349.1H733.5V359.9H757.5V336.5H781.5V334.2H794.0"/>
<path d="M121.0 313.9H133.5V367.2H157.5V347.4H181.5V360.3H205.5V369.0H229.5V341.8H253.5V319.5H277.5V287.8H301.5V307.3H325.5V273.8H349.5V237.7H373.5V221.7H397.5V239.6H421.5V241.3H445.5V266.2H469.5V259.0H493.5V248.1H517.5V257.7H541.5V269.7H565.5V313.0H589.5V308.5H613.5V334.9H637.5V344.4H661.5V344.7H685.5V353.7H709.5V356.3H733.5V365.8H757.5V324.2H781.5V363.1H794.0"/>
<path d="M121.0 335.6H133.5V339.5H157.5V346.7H181.5V346.5H205.5V342.3H229.5V335.9H253.5V357.8H277.5V292.5H301.5V329.2H325.5V273.2H349.5V224.9H373.5V257.2H397.5V227.1H421.5V249.0H445.5V279.5H469.5V261.4H493.5V257.9H517.5V297.5H541.5V288.9H565.5V298.3H589.5V287.9H613.5V332.7H637.5V376.7H661.5V323.4H685.5V357.3H709.5V353.6H733.5V343.0H757.5V344.2H781.5V340.9H794.0"/>
<path d="M121.0 403.5H133.5V352.8H157.5V389.6H181.5V405.1H205.5V352.7H229.5V346.1H253.5V358.7H277.5V344.0H301.5V273.0H325.5V279.6H349.5V242.2H373.5V218.1H397.5V262.2H421.5V263.3H445.5V263.4H469.5V230.0H493.5V246.7H517.5V293.6H541.5V273.5H565.5V295.8H589.5V321.0H613.5V340.3H637.5V351.6H661.5V330.7H685.5V360.9H709.5V342.5H733.5V352.4H757.5V349.0H781.5V347.3H794.0"/>
<path d="M121.0 305.3H133.5V341.7H157.5V348.6H181.5V307.9H205.5V357.0H229.5V311.2H253.5V314.9H277.5V335.2H301.5V291.6H325.5V281.0H349.5V247.3H373.5V236.4H397.5V237.7H421.5V252.3H445.5V262.9H469.5V233.6H493.5V268.7H517.5V307.7H541.5V289.2H565.5V309.8H589.5V309.6H613.5V335.1H637.5V376.2H661.5V326.1H685.5V354.0H709.5V344.0H733.5V349.3H757.5V339.1H781.5V344.5H794.0"/>
<path d="M121.0 408.8H133.5V307.2H157.5V358.0H181.5V365.7H205.5V378.6H229.5V332.3H253.5V317.7H277.5V301.4H301.5V283.9H325.5V280.2H349.5V228.7H373.5V224.7H397.5V226.4H421.5V265.4H445.5V253.7H469.5V236.4H493.5V267.3H517.5V296.3H541.5V291.9H565.5V289.0H589.5V299.8H613.5V321.8H637.5V348.4H661.5V341.5H685.5V368.2H709.5V367.9H733.5V354.8H757.5V363.4H781.5V340.9H794.0"/>
<path d="M121.0 372.2H133.5V308.9H157.5V328.8H181.5V341.3H205.5V357.6H229.5V366.5H253.5V322.4H277.5V346.4H301.5V267.6H325.5V271.4H349.5V243.3H373.5V223.0H397.5V225.3H421.5V256.3H445.5V256.7H469.5V237.8H493.5V245.7H517.5V292.2H541.5V287.8H565.5V302.9H589.5V300.2H613.5V327.6H637.5V379.2H661.5V346.6H685.5V354.3H709.5V347.6H733.5V353.4H757.5V350.3H781.5V348.0H794.0"/>
<path d="M121.0 341.3H133.5V332.4H157.5V360.4H181.5V379.2H205.5V365.2H229.5V330.0H253.5V365.2H277.5V315.8H301.5V287.6H325.5V283.8H349.5V233.7H373.5V251.5H397.5V242.5H421.5V254.5H445.5V245.5H469.5V248.0H493.5V255.2H517.5V268.3H541.5V281.7H565.5V301.3H589.5V315.8H613.5V323.4H637.5V349.6H661.5V341.7H685.5V365.5H709.5V339.0H733.5V361.8H757.5V326.1H781.5V313.2H794.0"/>
<path d="M121.0 352.5H133.5V367.7H157.5V337.8H181.5V352.0H205.5V338.6H229.5V382.3H253.5V302.5H277.5V335.3H301.5V294.3H325.5V252.1H349.5V249.1H373.5V269.6H397.5V246.6H421.5V264.6H445.5V266.4H469.5V224.5H493.5V266.2H517.5V276.4H541.5V277.1H565.5V287.2H589.5V293.9H613.5V344.4H637.5V351.4H661.5V345.7H685.5V341.0H709.5V355.4H733.5V350.7H757.5V367.0H781.5V345.3H794.0"/>
<path d="M121.0 351.2H133.5V354.1H157.5V409.5H181.5V319.4H205.5V353.7H229.5V352.4H253.5V311.1H277.5V322.0H301.5V313.6H325.5V245.2H349.5V241.2H373.5V236.0H397.5V224.3H421.5V271.1H445.5V251.1H469.5V228.5H493.5V243.2H517.5V285.2H541.5V292.4H565.5V308.3H589.5V317.4H613.5V317.9H637.5V344.8H661.5V347.2H685.5V346.1H709.5V373.4H733.5V356.5H757.5V336.2H781.5V362.7H794.0"/>
<path d="M121.0 300.8H133.5V348.0H157.5V352.8H181.5V346.4H205.5V366.7H229.5V343.6H253.5V356.9H277.5V306.1H301.5V326.6H325.5V263.0H349.5V251.8H373.5V242.5H397.5V223.2H421.5V262.1H445.5V266.9H469.5V225.2H493.5V257.8H517.5V288.8H541.5V288.3H565.5V298.8H589.5V294.7H613.5V334.6H637.5V364.5H661.5V345.7H685.5V368.1H709.5V374.5H733.5V351.4H757.5V337.3H781.5V307.2H794.0"/>
<path d="M121.0 361.5H133.5V365.7H157.5V354.1H181.5V370.0H205.5V338.2H229.5V370.7H253.5V314.6H277.5V284.0H301.5V301.6H325.5V268.1H349.5V257.3H373.5V255.2H397.5V248.7H421.5V228.3H445.5V269.0H469.5V235.2H493.5V262.6H517.5V263.0H541.5V309.4H565.5V287.0H589.5V314.1H613.5V337.3H637.5V354.0H661.5V344.9H685.5V352.3H709.5V350.0H733.5V355.2H757.5V328.6H781.5V334.3H794.0"/>
<path d="M121.0 306.0H133.5V344.7H157.5V342.6H181.5V336.0H205.5V349.2H229.5V345.7H253.5V358.9H277.5V300.4H301.5V271.5H325.5V270.7H349.5V233.5H373.5V227.5H397.5V256.2H421.5V246.5H445.5V246.2H469.5V245.2H493.5V257.4H517.5V314.2H541.5V300.7H565.5V320.8H589.5V319.9H613.5V334.5H637.5V360.1H661.5V331.7H685.5V338.8H709.5V353.8H733.5V366.7H757.5V346.7H781.5V344.8H794.0"/>
<path d="M121.0 319.8H133.5V325.2H157.5V343.8H181.5V341.5H205.5V385.0H229.5V322.6H253.5V316.4H277.5V302.8H301.5V301.0H325.5V285.9H349.5V230.8H373.5V271.5H397.5V260.1H421.5V277.6H445.5V255.9H469.5V229.6H493.5V274.2H517.5V263.5H541.5V289.6H565.5V284.3H589.5V303.8H613.5V345.5H637.5V344.0H661.5V354.0H685.5V359.2H709.5V358.7H733.5V372.4H757.5V368.6H781.5V361.6H794.0"/>
<path d="M121.0 373.6H133.5V357.1H157.5V365.9H181.5V395.7H205.5V358.9H229.5V338.3H253.5V364.9H277.5V325.2H301.5V309.2H325.5V266.6H349.5V228.2H373.5V247.1H397.5V241.3H421.5V260.1H445.5V257.6H469.5V230.9H493.5V235.6H517.5V278.7H541.5V285.1H565.5V313.6H589.5V296.5H613.5V340.3H637.5V366.0H661.5V338.5H685.5V344.0H709.5V371.8H733.5V345.3H757.5V365.2H781.5V325.9H794.0"/>
<path d="M121.0 363.3H133.5V321.3H157.5V366.1H181.5V321.2H205.5V341.1H229.5V346.1H253.5V333.6H277.5V316.5H301.5V319.8H325.5V257.3H349.5V236.3H373.5V245.5H397.5V237.5H421.5V247.9H445.5V253.6H469.5V230.0H493.5V268.6H517.5V271.0H541.5V290.1H565.5V277.8H589.5V298.4H613.5V334.3H637.5V349.7H661.5V362.0H685.5V378.0H709.5V334.4H733.5V348.6H757.5V378.6H781.5V319.3H794.0"/>
<path d="M121.0 305.1H133.5V333.0H157.5V344.1H181.5V371.7H205.5V337.6H229.5V332.8H253.5V359.8H277.5V293.4H301.5V290.1H325.5V256.7H349.5V231.8H373.5V229.0H397.5V255.0H421.5V259.5H445.5V263.2H469.5V244.7H493.5V251.3H517.5V288.5H541.5V282.0H565.5V304.1H589.5V309.9H613.5V344.6H637.5V352.5H661.5V342.4H685.5V371.0H709.5V360.8H733.5V359.1H757.5V342.9H781.5V349.7H794.0"/>
<path d="M121.0 282.2H133.5V353.1H157.5V304.7H181.5V360.2H205.5V345.6H229.5V342.5H253.5V326.5H277.5V297.4H301.5V285.0H325.5V250.2H349.5V243.1H373.5V256.7H397.5V236.0H421.5V276.7H445.5V275.5H469.5V245.5H493.5V233.7H517.5V283.1H541.5V267.0H565.5V277.8H589.5V303.3H613.5V320.8H637.5V345.4H661.5V341.7H685.5V349.3H709.5V346.1H733.5V366.5H757.5V337.7H781.5V306.8H794.0"/>
<path d="M121.0 353.2H133.5V380.5H157.5V333.8H181.5V357.0H205.5V357.0H229.5V377.1H253.5V329.4H277.5V324.2H301.5V284.5H325.5V290.1H349.5V228.4H373.5V265.9H397.5V239.6H421.5V273.1H445.5V253.4H469.5V229.2H493.5V246.6H517.5V287.2H541.5V283.7H565.5V314.5H589.5V334.7H613.5V333.3H637.5V374.5H661.5V350.7H685.5V347.6H709.5V367.6H733.5V363.8H757.5V331.9H781.5V331.9H794.0"/>
<path d="M121.0 364.1H133.5V333.6H157.5V338.2H181.5V316.2H205.5V347.5H229.5V348.8H253.5V347.4H277.5V303.0H301.5V320.2H325.5V261.0H349.5V231.7H373.5V224.3H397.5V255.0H421.5V277.3H445.5V271.0H469.5V236.0H493.5V268.1H517.5V299.8H541.5V282.5H565.5V305.1H589.5V308.8H613.5V351.7H637.5V339.1H661.5V359.3H685.5V347.7H709.5V355.7H733.5V361.1H757.5V359.7H781.5V308.3H794.0"/>
<path d="M121.0 355.4H133.5V331.7H157.5V342.0H181.5V331.4H205.5V362.6H229.5V350.3H253.5V315.6H277.5V292.0H301.5V275.2H325.5V280.0H349.5V227.3H373.5V237.3H397.5V239.7H421.5V243.1H445.5V268.4H469.5V243.3H493.5V261.1H517.5V278.4H541.5V265.7H565.5V301.7H589.5V318.4H613.5V344.3H637.5V366.2H661.5V358.7H685.5V358.3H709.5V367.4H733.5V352.3H757.5V374.1H781.5V371.1H794.0"/>
<path d="M121.0 323.6H133.5V318.1H157.5V334.6H181.5V349.3H205.5V380.7H229.5V330.4H253.5V311.4H277.5V324.3H301.5V278.7H325.5V278.6H349.5V233.7H373.5V265.3H397.5V243.8H421.5V276.2H445.5V229.3H469.5V243.8H493.5V256.6H517.5V277.3H541.5V290.7H565.5V308.9H589.5V299.7H613.5V329.6H637.5V373.5H661.5V354.9H685.5V350.6H709.5V347.0H733.5V356.8H757.5V325.8H781.5V334.1H794.0"/>
<path d="M121.0 328.8H133.5V377.9H157.5V381.3H181.5V354.7H205.5V335.6H229.5V354.1H253.5V342.0H277.5V299.2H301.5V293.4H325.5V264.1H349.5V225.6H373.5V259.3H397.5V240.5H421.5V244.7H445.5V265.5H469.5V225.2H493.5V253.2H517.5V298.9H541.5V268.4H565.5V289.8H589.5V305.3H613.5V350.8H637.5V340.8H661.5V354.8H685.5V373.5H709.5V382.6H733.5V363.0H757.5V346.7H781.5V337.5H794.0"/>
<path d="M121.0 363.5H133.5V362.2H157.5V361.9H181.5V377.6H205.5V317.9H229.5V375.0H253.5V347.2H277.5V309.7H301.5V288.8H325.5V256.6H349.5V260.0H373.5V255.5H397.5V245.9H421.5V245.6H445.5V253.0H469.5V245.6H493.5V240.9H517.5V308.4H541.5V296.7H565.5V289.6H589.5V300.4H613.5V332.8H637.5V374.6H661.5V348.0H685.5V351.3H709.5V343.6H733.5V352.2H757.5V332.4H781.5V358.7H794.0"/>
<path d="M121.0 345.7H133.5V359.9H157.5V331.8H181.5V390.2H205.5V353.0H229.5V348.0H253.5V325.1H277.5V303.7H301.5V317.8H325.5V291.1H349.5V247.1H373.5V214.9H397.5V263.0H421.5V258.8H445.5V260.9H469.5V238.2H493.5V262.7H517.5V293.2H541.5V277.3H565.5V305.9H589.5V321.8H613.5V329.2H637.5V361.0H661.5V358.4H685.5V376.1H709.5V365.9H733.5V359.5H757.5V332.4H781.5V356.0H794.0"/>
<path d="M121.0 391.5H133.5V374.8H157.5V374.4H181.5V356.0H205.5V372.3H229.5V374.6H253.5V339.0H277.5V305.1H301.5V298.4H325.5V273.0H349.5V236.7H373.5V225.3H397.5V235.6H421.5V230.0H445.5V260.2H469.5V259.8H493.5V265.2H517.5V294.4H541.5V289.7H565.5V297.7H589.5V287.2H613.5V324.5H637.5V338.7H661.5V359.4H685.5V338.8H709.5V365.6H733.5V356.1H757.5V339.3H781.5V338.5H794.0"/>
<path d="M121.0 312.0H133.5V366.8H157.5V348.2H181.5V309.8H205.5V324.4H229.5V337.4H253.5V301.0H277.5V328.3H301.5V289.5H325.5V289.6H349.5V241.9H373.5V255.6H397.5V222.2H421.5V238.7H445.5V259.0H469.5V238.8H493.5V261.3H517.5V269.9H541.5V277.0H565.5V284.7H589.5V322.8H613.5V325.7H637.5V343.4H661.5V329.4H685.5V335.6H709.5V358.5H733.5V380.4H757.5V336.4H781.5V348.5H794.0"/>
<path d="M121.0 345.5H133.5V373.4H157.5V348.2H181.5V340.4H205.5V348.4H229.5V340.4H253.5V306.1H277.5V287.5H301.5V292.0H325.5V272.7H349.5V226.0H373.5V218.1H397.5V266.5H421.5V267.5H445.5V250.7H469.5V242.7H493.5V245.0H517.5V260.3H541.5V283.8H565.5V297.6H589.5V331.8H613.5V341.6H637.5V366.2H661.5V339.1H685.5V352.8H709.5V345.5H733.5V368.0H757.5V329.0H781.5V370.4H794.0"/>
<path d="M121.0 368.1H133.5V307.3H157.5V303.9H181.5V330.0H205.5V324.8H229.5V314.1H253.5V326.3H277.5V294.9H301.5V328.0H325.5V265.3H349.5V225.4H373.5V246.1H397.5V236.5H421.5V243.1H445.5V258.0H469.5V269.6H493.5V264.2H517.5V277.1H541.5V303.6H565.5V278.4H589.5V301.6H613.5V344.4H637.5V380.9H661.5V341.5H685.5V347.1H709.5V360.1H733.5V348.5H757.5V362.7H781.5V326.0H794.0"/>
<path d="M121.0 323.0H133.5V373.5H157.5V401.6H181.5V343.8H205.5V354.8H229.5V343.7H253.5V298.1H277.5V329.3H301.5V276.8H325.5V279.1H349.5V226.2H373.5V235.5H397.5V257.9H421.5V249.5H445.5V235.0H469.5V237.6H493.5V272.1H517.5V277.9H541.5V319.1H565.5V295.6H589.5V310.3H613.5V345.8H637.5V342.7H661.5V346.8H685.5V354.0H709.5V343.1H733.5V373.3H757.5V333.3H781.5V350.7H794.0"/>
<path d="M121.0 425.2H133.5V304.3H157.5V351.1H181.5V359.7H205.5V342.8H229.5V334.2H253.5V354.0H277.5V294.8H301.5V329.2H325.5V277.8H349.5V240.1H373.5V239.3H397.5V235.6H421.5V257.6H445.5V260.6H469.5V237.3H493.5V264.0H517.5V290.8H541.5V271.6H565.5V314.8H589.5V337.8H613.5V349.6H637.5V378.1H661.5V355.2H685.5V349.5H709.5V357.7H733.5V360.7H757.5V354.5H781.5V359.9H794.0"/>
<path d="M121.0 359.0H133.5V328.7H157.5V349.3H181.5V333.4H205.5V359.7H229.5V324.6H253.5V329.9H277.5V308.8H301.5V267.3H325.5V271.8H349.5V237.0H373.5V241.3H397.5V233.0H421.5V229.4H445.5V258.9H469.5V228.5H493.5V238.8H517.5V278.2H541.5V284.1H565.5V287.6H589.5V303.8H613.5V337.9H637.5V375.9H661.5V340.7H685.5V340.9H709.5V365.1H733.5V366.5H757.5V330.6H781.5V324.5H794.0"/>
<path d="M121.0 397.9H133.5V382.8H157.5V347.7H181.5V351.4H205.5V345.4H229.5V335.2H253.5V314.9H277.5V288.9H301.5V289.4H325.5V290.0H349.5V238.0H373.5V228.1H397.5V234.2H421.5V251.1H445.5V255.4H469.5V245.6H493.5V257.9H517.5V298.2H541.5V283.8H565.5V301.4H589.5V324.1H613.5V326.6H637.5V357.8H661.5V344.7H685.5V352.1H709.5V337.3H733.5V348.6H757.5V337.8H781.5V342.3H794.0"/>
<path d="M121.0 343.4H133.5V328.8H157.5V338.6H181.5V360.0H205.5V366.7H229.5V323.2H253.5V333.9H277.5V279.6H301.5V273.7H325.5V298.4H349.5V227.3H373.5V242.1H397.5V222.4H421.5V264.2H445.5V269.8H469.5V228.7H493.5V278.0H517.5V296.5H541.5V298.7H565.5V318.8H589.5V325.7H613.5V348.5H637.5V343.1H661.5V338.8H685.5V352.6H709.5V356.5H733.5V358.0H757.5V362.5H781.5V317.2H794.0"/>
<path d="M121.0 334.1H133.5V382.2H157.5V348.3H181.5V338.4H205.5V351.2H229.5V334.0H253.5V353.8H277.5V344.5H301.5V286.1H325.5V296.3H349.5V231.2H373.5V224.5H397.5V236.0H421.5V239.9H445.5V224.9H469.5V240.1H493.5V234.5H517.5V302.6H541.5V300.0H565.5V281.4H589.5V299.5H613.5V317.7H637.5V359.0H661.5V342.4H685.5V344.0H709.5V379.1H733.5V346.2H757.5V334.4H781.5V358.8H794.0"/>
<path d="M121.0 287.0H133.5V362.4H157.5V381.7H181.5V337.5H205.5V343.4H229.5V378.1H253.5V333.4H277.5V287.5H301.5V295.6H325.5V246.4H349.5V240.9H373.5V270.8H397.5V239.0H421.5V233.8H445.5V261.2H469.5V230.5H493.5V258.9H517.5V257.3H541.5V280.4H565.5V312.7H589.5V298.6H613.5V353.6H637.5V371.6H661.5V339.7H685.5V344.9H709.5V349.7H733.5V362.9H757.5V327.0H781.5V358.8H794.0"/>
<path d="M121.0 311.4H133.5V335.3H157.5V343.2H181.5V352.9H205.5V364.8H229.5V352.0H253.5V330.1H277.5V308.1H301.5V304.5H325.5V291.5H349.5V233.7H373.5V224.2H397.5V235.8H421.5V253.9H445.5V264.5H469.5V225.2H493.5V261.5H517.5V265.4H541.5V317.0H565.5V317.8H589.5V311.4H613.5V337.7H637.5V349.3H661.5V335.4H685.5V360.7H709.5V362.6H733.5V338.9H757.5V329.6H781.5V362.8H794.0"/>
<path d="M121.0 333.5H133.5V353.9H157.5V353.3H181.5V354.5H205.5V378.9H229.5V326.0H253.5V336.1H277.5V309.2H301.5V324.7H325.5V268.0H349.5V225.2H373.5V223.2H397.5V233.4H421.5V252.3H445.5V274.5H469.5V235.8H493.5V258.8H517.5V291.4H541.5V275.0H565.5V302.6H589.5V323.4H613.5V343.2H637.5V352.0H661.5V333.4H685.5V343.5H709.5V372.6H733.5V372.4H757.5V347.0H781.5V307.9H794.0"/>
<path d="M121.0 361.2H133.5V358.8H157.5V334.5H181.5V341.5H205.5V370.9H229.5V318.3H253.5V329.4H277.5V328.6H301.5V312.4H325.5V275.0H349.5V237.0H373.5V243.0H397.5V240.8H421.5V256.9H445.5V276.7H469.5V229.2H493.5V242.1H517.5V299.7H541.5V278.8H565.5V294.5H589.5V307.7H613.5V335.5H637.5V355.3H661.5V345.6H685.5V353.2H709.5V336.0H733.5V346.3H757.5V336.6H781.5V325.3H794.0"/>
<path d="M121.0 345.9H133.5V371.9H157.5V374.3H181.5V351.8H205.5V362.6H229.5V342.1H253.5V320.0H277.5V309.0H301.5V286.4H325.5V282.8H349.5V233.4H373.5V222.5H397.5V239.9H421.5V273.7H445.5V250.3H469.5V242.2H493.5V244.1H517.5V278.9H541.5V282.2H565.5V307.5H589.5V322.0H613.5V343.0H637.5V365.5H661.5V340.2H685.5V339.7H709.5V360.6H733.5V355.6H757.5V337.4H781.5V373.1H794.0"/>
<path d="M121.0 395.9H133.5V332.3H157.5V344.9H181.5V322.1H205.5V353.0H229.5V326.7H253.5V322.1H277.5V306.4H301.5V313.2H325.5V276.5H349.5V223.2H373.5V269.8H397.5V243.9H421.5V237.4H445.5V243.6H469.5V265.3H493.5V258.7H517.5V297.0H541.5V279.7H565.5V294.8H589.5V300.1H613.5V327.9H637.5V368.6H661.5V352.3H685.5V350.8H709.5V377.2H733.5V355.1H757.5V341.5H781.5V363.8H794.0"/>
<path d="M121.0 358.1H133.5V366.4H157.5V313.5H181.5V374.7H205.5V339.2H229.5V343.0H253.5V326.6H277.5V315.8H301.5V324.0H325.5V283.6H349.5V262.5H373.5V252.3H397.5V252.4H421.5V231.6H445.5V277.7H469.5V233.1H493.5V257.6H517.5V274.6H541.5V270.2H565.5V293.1H589.5V316.9H613.5V349.2H637.5V363.5H661.5V348.1H685.5V365.2H709.5V359.6H733.5V355.6H757.5V341.8H781.5V338.9H794.0"/>
<path d="M121.0 347.6H133.5V342.4H157.5V351.0H181.5V393.1H205.5V348.8H229.5V345.1H253.5V329.8H277.5V346.4H301.5V274.1H325.5V289.7H349.5V244.3H373.5V217.7H397.5V248.1H421.5V251.4H445.5V271.3H469.5V242.6H493.5V259.9H517.5V251.3H541.5V293.3H565.5V297.5H589.5V313.6H613.5V334.9H637.5V338.3H661.5V336.7H685.5V354.7H709.5V338.4H733.5V358.6H757.5V352.3H781.5V319.0H794.0"/>
<path d="M121.0 336.6H133.5V333.6H157.5V365.8H181.5V407.6H205.5V337.6H229.5V315.3H253.5V330.2H277.5V292.8H301.5V301.8H325.5V282.7H349.5V240.8H373.5V227.3H397.5V230.6H421.5V248.7H445.5V256.6H469.5V246.2H493.5V259.6H517.5V260.6H541.5V321.1H565.5V295.4H589.5V325.8H613.5V329.5H637.5V360.5H661.5V350.2H685.5V350.1H709.5V348.1H733.5V363.0H757.5V336.6H781.5V303.4H794.0"/>
<path d="M121.0 308.5H133.5V343.8H157.5V370.8H181.5V351.6H205.5V368.2H229.5V366.4H253.5V330.5H277.5V285.0H301.5V309.7H325.5V269.4H349.5V234.1H373.5V233.0H397.5V237.5H421.5V254.1H445.5V275.8H469.5V244.5H493.5V273.0H517.5V256.7H541.5V280.4H565.5V308.9H589.5V301.1H613.5V345.4H637.5V342.5H661.5V332.9H685.5V368.6H709.5V341.2H733.5V351.1H757.5V354.0H781.5V324.4H794.0"/>
<path d="M121.0 306.5H133.5V355.2H157.5V364.1H181.5V367.1H205.5V341.5H229.5V320.7H253.5V311.8H277.5V308.1H301.5V295.3H325.5V288.3H349.5V224.2H373.5V214.5H397.5V234.3H421.5V230.9H445.5V261.0H469.5V230.6H493.5V266.3H517.5V264.7H541.5V269.5H565.5V281.4H589.5V307.2H613.5V345.0H637.5V339.7H661.5V334.4H685.5V348.3H709.5V372.1H733.5V348.4H757.5V327.5H781.5V372.7H794.0"/>
<path d="M121.0 322.2H133.5V344.3H157.5V365.3H181.5V335.4H205.5V365.3H229.5V321.5H253.5V324.2H277.5V325.4H301.5V287.2H325.5V262.4H349.5V247.8H373.5V246.1H397.5V249.1H421.5V243.3H445.5V258.2H469.5V242.3H493.5V259.3H517.5V264.2H541.5V295.6H565.5V286.4H589.5V311.6H613.5V322.0H637.5V370.7H661.5V349.9H685.5V340.3H709.5V378.3H733.5V348.8H757.5V348.8H781.5V361.8H794.0"/>
<path d="M121.0 283.0H133.5V356.8H157.5V334.0H181.5V338.7H205.5V346.7H229.5V372.7H253.5V332.0H277.5V314.2H301.5V297.1H325.5V247.2H349.5V222.6H373.5V241.2H397.5V225.2H421.5V229.7H445.5V262.8H469.5V237.9H493.5V259.0H517.5V306.2H541.5V291.5H565.5V289.2H589.5V318.5H613.5V323.2H637.5V347.1H661.5V341.9H685.5V361.5H709.5V340.4H733.5V365.1H757.5V336.1H781.5V310.9H794.0"/>
<path d="M121.0 322.6H133.5V336.9H157.5V347.3H181.5V391.8H205.5V329.0H229.5V329.8H253.5V321.7H277.5V283.1H301.5V293.9H325.5V276.6H349.5V237.0H373.5V223.3H397.5V231.9H421.5V253.1H445.5V277.0H469.5V236.5H493.5V233.7H517.5V270.4H541.5V283.3H565.5V321.2H589.5V298.4H613.5V338.0H637.5V378.5H661.5V347.2H685.5V342.5H709.5V351.9H733.5V356.8H757.5V371.5H781.5V373.0H794.0"/>
<path d="M121.0 348.4H133.5V368.9H157.5V352.5H181.5V329.6H205.5V337.5H229.5V318.6H253.5V327.0H277.5V323.2H301.5V314.6H325.5V253.2H349.5V232.6H373.5V259.5H397.5V230.1H421.5V246.4H445.5V265.0H469.5V235.3H493.5V263.9H517.5V295.5H541.5V277.1H565.5V296.4H589.5V314.7H613.5V329.3H637.5V369.5H661.5V339.4H685.5V346.5H709.5V371.0H733.5V359.7H757.5V324.5H781.5V321.6H794.0"/>
<path d="M121.0 309.8H133.5V362.8H157.5V325.6H181.5V346.6H205.5V374.0H229.5V358.9H253.5V337.5H277.5V336.8H301.5V284.9H325.5V288.4H349.5V229.1H373.5V238.6H397.5V224.2H421.5V252.9H445.5V283.6H469.5V233.9H493.5V253.1H517.5V266.8H541.5V285.4H565.5V320.0H589.5V310.7H613.5V338.6H637.5V352.8H661.5V329.7H685.5V348.2H709.5V349.0H733.5V351.3H757.5V330.9H781.5V361.9H794.0"/>
<path d="M121.0 314.2H133.5V336.7H157.5V374.6H181.5V382.6H205.5V347.7H229.5V325.2H253.5V319.0H277.5V302.0H301.5V324.7H325.5V270.6H349.5V272.9H373.5V242.0H397.5V244.8H421.5V254.4H445.5V266.7H469.5V235.9H493.5V244.8H517.5V309.3H541.5V288.7H565.5V311.7H589.5V304.2H613.5V345.4H637.5V377.3H661.5V352.7H685.5V364.6H709.5V369.2H733.5V356.1H757.5V333.7H781.5V364.8H794.0"/>
<path d="M121.0 369.6H133.5V383.4H157.5V335.6H181.5V353.8H205.5V334.7H229.5V355.4H253.5V343.9H277.5V330.2H301.5V302.8H325.5V273.2H349.5V219.7H373.5V228.7H397.5V252.7H421.5V246.5H445.5V271.1H469.5V238.4H493.5V271.4H517.5V259.6H541.5V292.0H565.5V291.2H589.5V329.0H613.5V336.7H637.5V355.4H661.5V356.5H685.5V361.8H709.5V348.1H733.5V356.4H757.5V348.6H781.5V335.7H794.0"/>
<path d="M121.0 351.4H133.5V337.8H157.5V353.2H181.5V371.3H205.5V332.7H229.5V324.7H253.5V321.6H277.5V311.5H301.5V269.0H325.5V260.8H349.5V248.0H373.5V251.1H397.5V245.4H421.5V277.1H445.5V240.0H469.5V239.1H493.5V257.1H517.5V276.0H541.5V270.8H565.5V307.8H589.5V334.5H613.5V337.7H637.5V361.2H661.5V331.3H685.5V327.5H709.5V354.2H733.5V352.6H757.5V336.0H781.5V308.9H794.0"/>
<path d="M121.0 309.3H133.5V365.6H157.5V332.2H181.5V335.6H205.5V334.6H229.5V332.4H253.5V321.9H277.5V283.3H301.5V282.0H325.5V272.1H349.5V237.0H373.5V268.3H397.5V237.7H421.5V241.2H445.5V229.4H469.5V226.8H493.5V267.6H517.5V300.9H541.5V284.7H565.5V319.7H589.5V314.8H613.5V331.5H637.5V353.6H661.5V329.4H685.5V350.8H709.5V380.3H733.5V373.0H757.5V342.4H781.5V339.4H794.0"/>
<path d="M121.0 422.8H133.5V329.9H157.5V349.8H181.5V380.1H205.5V332.3H229.5V347.5H253.5V336.0H277.5V294.2H301.5V288.8H325.5V264.6H349.5V245.7H373.5V239.1H397.5V249.0H421.5V255.3H445.5V267.6H469.5V265.4H493.5V277.7H517.5V307.3H541.5V265.5H565.5V312.0H589.5V291.7H613.5V330.9H637.5V362.4H661.5V344.2H685.5V350.8H709.5V362.3H733.5V351.4H757.5V384.8H781.5V319.7H794.0"/>
<path d="M121.0 366.6H133.5V339.6H157.5V330.8H181.5V351.0H205.5V361.0H229.5V335.5H253.5V342.9H277.5V326.3H301.5V292.1H325.5V257.5H349.5V229.4H373.5V232.4H397.5V242.9H421.5V250.8H445.5V265.9H469.5V248.0H493.5V271.4H517.5V285.2H541.5V296.3H565.5V299.4H589.5V335.5H613.5V322.8H637.5V365.9H661.5V325.3H685.5V339.5H709.5V364.0H733.5V346.8H757.5V342.9H781.5V340.5H794.0"/>
<path d="M121.0 339.3H133.5V343.1H157.5V366.3H181.5V355.9H205.5V355.0H229.5V358.5H253.5V297.2H277.5V313.6H301.5V272.9H325.5V265.9H349.5V227.6H373.5V255.5H397.5V244.4H421.5V241.1H445.5V248.1H469.5V232.6H493.5V275.9H517.5V289.0H541.5V292.2H565.5V312.3H589.5V309.4H613.5V347.2H637.5V343.8H661.5V325.7H685.5V365.7H709.5V360.0H733.5V348.2H757.5V333.2H781.5V353.0H794.0"/>
<path d="M121.0 324.8H133.5V369.1H157.5V371.0H181.5V363.4H205.5V360.1H229.5V307.9H253.5V349.5H277.5V316.4H301.5V273.2H325.5V267.5H349.5V240.6H373.5V247.3H397.5V250.7H421.5V263.5H445.5V276.8H469.5V239.6H493.5V248.4H517.5V296.6H541.5V310.9H565.5V311.0H589.5V293.7H613.5V339.0H637.5V379.1H661.5V338.6H685.5V343.4H709.5V339.7H733.5V383.4H757.5V354.2H781.5V367.6H794.0"/>
<path d="M121.0 376.9H133.5V330.8H157.5V344.5H181.5V339.2H205.5V385.7H229.5V372.9H253.5V351.7H277.5V300.2H301.5V277.6H325.5V278.6H349.5V242.5H373.5V238.6H397.5V256.5H421.5V266.9H445.5V272.3H469.5V245.1H493.5V254.7H517.5V288.7H541.5V286.8H565.5V286.6H589.5V316.6H613.5V350.1H637.5V369.3H661.5V343.2H685.5V334.4H709.5V381.3H733.5V365.7H757.5V337.5H781.5V364.2H794.0"/>
<path d="M121.0 352.2H133.5V338.2H157.5V366.0H181.5V379.3H205.5V351.3H229.5V352.9H253.5V319.1H277.5V331.6H301.5V293.0H325.5V269.3H349.5V231.2H373.5V253.7H397.5V237.8H421.5V244.4H445.5V269.1H469.5V225.9H493.5V252.4H517.5V284.4H541.5V276.9H565.5V302.0H589.5V299.0H613.5V322.9H637.5V357.3H661.5V325.7H685.5V359.8H709.5V352.9H733.5V353.7H757.5V352.6H781.5V316.9H794.0"/>
<path d="M121.0 332.5H133.5V386.1H157.5V338.4H181.5V358.8H205.5V348.5H229.5V346.3H253.5V345.6H277.5V305.7H301.5V312.4H325.5V271.3H349.5V238.1H373.5V233.6H397.5V233.9H421.5V238.2H445.5V254.3H469.5V230.7H493.5V263.4H517.5V254.6H541.5V268.9H565.5V320.2H589.5V287.8H613.5V331.1H637.5V353.6H661.5V327.8H685.5V363.0H709.5V365.6H733.5V345.1H757.5V339.5H781.5V326.0H794.0"/>
<path d="M121.0 311.6H133.5V329.9H157.5V342.2H181.5V332.1H205.5V353.6H229.5V322.8H253.5V358.4H277.5V324.6H301.5V317.1H325.5V293.9H349.5V233.2H373.5V240.6H397.5V233.1H421.5V250.2H445.5V257.5H469.5V250.2H493.5V243.7H517.5V271.2H541.5V274.5H565.5V303.5H589.5V308.7H613.5V332.7H637.5V366.3H661.5V350.5H685.5V377.6H709.5V349.6H733.5V364.3H757.5V333.8H781.5V328.5H794.0"/>
<path d="M121.0 397.7H133.5V407.8H157.5V324.5H181.5V305.3H205.5V371.7H229.5V349.6H253.5V310.7H277.5V285.4H301.5V298.4H325.5V263.8H349.5V241.1H373.5V233.9H397.5V251.7H421.5V229.7H445.5V267.1H469.5V238.0H493.5V258.2H517.5V262.8H541.5V289.2H565.5V309.8H589.5V316.1H613.5V332.1H637.5V374.4H661.5V352.8H685.5V363.5H709.5V343.6H733.5V360.7H757.5V355.8H781.5V346.7H794.0"/>
<path d="M121.0 347.6H133.5V309.6H157.5V343.1H181.5V311.5H205.5V374.8H229.5V326.9H253.5V322.1H277.5V300.4H301.5V313.8H325.5V282.1H349.5V232.2H373.5V271.0H397.5V243.0H421.5V247.2H445.5V257.2H469.5V235.3H493.5V261.2H517.5V250.1H541.5V272.4H565.5V308.8H589.5V326.0H613.5V343.2H637.5V376.7H661.5V336.0H685.5V334.3H709.5V347.6H733.5V359.5H757.5V360.0H781.5V318.2H794.0"/>
<path d="M121.0 371.5H133.5V332.4H157.5V347.8H181.5V339.1H205.5V354.7H229.5V376.7H253.5V323.5H277.5V332.4H301.5V278.5H325.5V276.0H349.5V230.7H373.5V224.0H397.5V253.4H421.5V226.5H445.5V271.4H469.5V227.4H493.5V249.7H517.5V251.8H541.5V282.0H565.5V302.9H589.5V318.1H613.5V356.7H637.5V375.2H661.5V330.3H685.5V339.9H709.5V339.8H733.5V357.3H757.5V348.9H781.5V363.6H794.0"/>
<path d="M121.0 366.4H133.5V313.6H157.5V345.8H181.5V363.0H205.5V340.1H229.5V320.7H253.5V343.0H277.5V287.7H301.5V297.2H325.5V266.0H349.5V245.5H373.5V259.4H397.5V251.4H421.5V224.0H445.5V283.5H469.5V240.7H493.5V265.6H517.5V288.1H541.5V275.3H565.5V290.3H589.5V307.9H613.5V327.2H637.5V370.8H661.5V348.7H685.5V342.2H709.5V362.4H733.5V359.7H757.5V347.3H781.5V355.7H794.0"/>
<path d="M121.0 301.3H133.5V356.7H157.5V327.8H181.5V362.3H205.5V324.9H229.5V351.6H253.5V344.0H277.5V292.2H301.5V271.3H325.5V253.4H349.5V240.4H373.5V240.1H397.5V264.8H421.5V225.4H445.5V232.5H469.5V234.8H493.5V268.7H517.5V255.1H541.5V282.4H565.5V296.4H589.5V291.8H613.5V344.0H637.5V365.9H661.5V347.9H685.5V362.4H709.5V370.4H733.5V359.2H757.5V343.4H781.5V329.4H794.0"/>
<path d="M121.0 352.0H133.5V363.2H157.5V358.0H181.5V380.9H205.5V346.7H229.5V330.0H253.5V298.8H277.5V311.3H301.5V308.0H325.5V291.2H349.5V235.8H373.5V270.8H397.5V253.9H421.5V222.3H445.5V260.4H469.5V233.1H493.5V267.9H517.5V284.2H541.5V276.9H565.5V309.9H589.5V320.2H613.5V329.5H637.5V354.5H661.5V358.8H685.5V362.1H709.5V342.9H733.5V335.5H757.5V325.9H781.5V330.5H794.0"/>
<path d="M121.0 338.9H133.5V337.9H157.5V319.3H181.5V393.8H205.5V346.9H229.5V368.5H253.5V327.6H277.5V315.0H301.5V319.3H325.5V284.9H349.5V229.5H373.5V230.8H397.5V250.9H421.5V260.5H445.5V259.1H469.5V235.1H493.5V266.7H517.5V300.6H541.5V280.4H565.5V299.7H589.5V288.1H613.5V346.4H637.5V342.5H661.5V339.5H685.5V347.1H709.5V376.9H733.5V360.5H757.5V370.3H781.5V356.9H794.0"/>
<path d="M121.0 340.5H133.5V370.0H157.5V380.8H181.5V346.5H205.5V361.2H229.5V350.8H253.5V331.5H277.5V309.0H301.5V302.0H325.5V280.8H349.5V224.6H373.5V274.7H397.5V225.7H421.5V277.0H445.5V244.2H469.5V237.0H493.5V278.5H517.5V271.1H541.5V272.7H565.5V303.1H589.5V287.2H613.5V326.8H637.5V370.7H661.5V340.9H685.5V356.1H709.5V349.1H733.5V359.5H757.5V361.7H781.5V365.8H794.0"/>
<path d="M121.0 381.2H133.5V372.8H157.5V367.5H181.5V374.1H205.5V359.7H229.5V349.8H253.5V318.9H277.5V315.3H301.5V282.9H325.5V289.8H349.5V229.2H373.5V232.8H397.5V238.0H421.5V254.2H445.5V276.2H469.5V227.6H493.5V264.2H517.5V263.7H541.5V274.1H565.5V299.2H589.5V302.2H613.5V326.1H637.5V354.8H661.5V353.6H685.5V362.3H709.5V340.1H733.5V363.1H757.5V359.4H781.5V374.1H794.0"/>
<path d="M121.0 304.2H133.5V311.1H157.5V361.2H181.5V309.5H205.5V348.2H229.5V344.5H253.5V340.4H277.5V316.0H301.5V274.6H325.5V282.1H349.5V241.8H373.5V236.6H397.5V242.1H421.5V270.2H445.5V266.7H469.5V246.6H493.5V257.4H517.5V261.1H541.5V304.0H565.5V314.8H589.5V302.8H613.5V330.8H637.5V371.2H661.5V335.9H685.5V349.3H709.5V334.1H733.5V347.4H757.5V354.6H781.5V369.0H794.0"/>
<path d="M121.0 328.1H133.5V359.5H157.5V375.2H181.5V343.9H205.5V364.6H229.5V331.4H253.5V328.4H277.5V315.5H301.5V269.8H325.5V270.0H349.5V225.2H373.5V236.6H397.5V240.3H421.5V260.2H445.5V254.4H469.5V226.5H493.5V270.7H517.5V265.8H541.5V282.2H565.5V282.3H589.5V299.6H613.5V331.5H637.5V371.0H661.5V344.8H685.5V349.1H709.5V351.7H733.5V356.7H757.5V370.4H781.5V371.2H794.0"/>
<path d="M121.0 321.0H133.5V337.6H157.5V378.1H181.5V355.5H205.5V327.2H229.5V315.7H253.5V336.0H277.5V318.9H301.5V290.9H325.5V278.8H349.5V244.0H373.5V254.9H397.5V260.3H421.5V259.1H445.5V279.1H469.5V240.8H493.5V262.4H517.5V258.2H541.5V282.3H565.5V284.5H589.5V289.2H613.5V330.3H637.5V346.0H661.5V344.9H685.5V343.4H709.5V358.1H733.5V358.6H757.5V342.2H781.5V338.4H794.0"/>
<path d="M121.0 360.8H133.5V359.1H157.5V378.1H181.5V360.4H205.5V355.5H229.5V335.3H253.5V338.8H277.5V295.0H301.5V300.2H325.5V285.7H349.5V230.0H373.5V259.1H397.5V239.5H421.5V264.9H445.5V256.6H469.5V232.2H493.5V257.8H517.5V281.0H541.5V284.1H565.5V297.9H589.5V317.9H613.5V325.8H637.5V365.8H661.5V344.1H685.5V359.0H709.5V369.7H733.5V364.1H757.5V337.3H781.5V311.7H794.0"/>
<path d="M121.0 307.5H133.5V353.5H157.5V337.5H181.5V361.8H205.5V369.3H229.5V375.1H253.5V317.9H277.5V315.8H301.5V286.9H325.5V269.8H349.5V251.6H373.5V258.3H397.5V232.3H421.5V254.4H445.5V281.8H469.5V240.1H493.5V246.0H517.5V268.7H541.5V284.7H565.5V312.7H589.5V333.0H613.5V336.4H637.5V363.3H661.5V331.1H685.5V366.7H709.5V361.6H733.5V360.5H757.5V329.4H781.5V311.0H794.0"/>
<path d="M121.0 411.3H133.5V339.6H157.5V358.3H181.5V358.6H205.5V340.4H229.5V347.8H253.5V305.2H277.5V320.4H301.5V314.3H325.5V291.7H349.5V240.0H373.5V236.2H397.5V247.0H421.5V244.2H445.5V252.4H469.5V235.7H493.5V276.4H517.5V264.3H541.5V291.1H565.5V312.1H589.5V316.7H613.5V330.8H637.5V362.5H661.5V333.7H685.5V354.0H709.5V364.6H733.5V354.5H757.5V352.6H781.5V303.9H794.0"/>
<path d="M121.0 285.5H133.5V351.8H157.5V336.1H181.5V342.8H205.5V337.6H229.5V340.3H253.5V316.4H277.5V327.5H301.5V308.7H325.5V275.7H349.5V240.4H373.5V232.6H397.5V243.9H421.5V278.6H445.5V246.3H469.5V249.9H493.5V267.4H517.5V282.1H541.5V290.3H565.5V299.7H589.5V307.5H613.5V337.8H637.5V379.9H661.5V327.1H685.5V357.2H709.5V351.0H733.5V368.8H757.5V353.5H781.5V304.9H794.0"/>
<path d="M121.0 333.3H133.5V336.4H157.5V389.3H181.5V360.9H205.5V378.6H229.5V343.2H253.5V335.3H277.5V307.7H301.5V294.2H325.5V271.4H349.5V232.5H373.5V254.7H397.5V232.2H421.5V244.2H445.5V229.3H469.5V241.4H493.5V239.8H517.5V261.2H541.5V290.6H565.5V277.5H589.5V327.7H613.5V342.1H637.5V356.7H661.5V353.6H685.5V371.6H709.5V333.3H733.5V366.9H757.5V332.5H781.5V321.7H794.0"/>
<path d="M121.0 338.8H133.5V356.7H157.5V322.3H181.5V311.9H205.5V335.7H229.5V347.9H253.5V328.6H277.5V332.6H301.5V278.3H325.5V282.4H349.5V246.3H373.5V237.7H397.5V229.1H421.5V252.7H445.5V253.1H469.5V227.0H493.5V262.9H517.5V273.7H541.5V271.4H565.5V304.4H589.5V292.6H613.5V335.0H637.5V350.4H661.5V349.9H685.5V356.5H709.5V370.9H733.5V346.0H757.5V367.0H781.5V349.5H794.0"/>
<path d="M121.0 328.6H133.5V382.8H157.5V354.8H181.5V346.5H205.5V349.2H229.5V349.0H253.5V346.1H277.5V317.8H301.5V292.1H325.5V290.7H349.5V233.8H373.5V230.8H397.5V224.1H421.5V236.3H445.5V249.3H469.5V256.6H493.5V236.4H517.5V267.1H541.5V290.9H565.5V306.4H589.5V334.1H613.5V319.3H637.5V349.6H661.5V349.4H685.5V366.7H709.5V366.3H733.5V361.3H757.5V341.1H781.5V364.7H794.0"/>
<path d="M121.0 331.7H133.5V309.8H157.5V338.7H181.5V371.6H205.5V349.3H229.5V347.6H253.5V341.4H277.5V290.8H301.5V296.0H325.5V281.9H349.5V244.8H373.5V240.0H397.5V242.7H421.5V256.0H445.5V252.1H469.5V238.1H493.5V275.1H517.5V280.8H541.5V277.0H565.5V303.2H589.5V323.2H613.5V348.4H637.5V364.3H661.5V360.6H685.5V352.5H709.5V355.7H733.5V360.3H757.5V345.7H781.5V350.8H794.0"/>
<path d="M121.0 293.1H133.5V317.8H157.5V340.2H181.5V341.1H205.5V360.9H229.5V344.0H253.5V343.0H277.5V311.1H301.5V316.8H325.5V281.1H349.5V221.9H373.5V241.3H397.5V235.2H421.5V247.0H445.5V247.9H469.5V231.0H493.5V252.6H517.5V259.9H541.5V275.3H565.5V291.4H589.5V325.0H613.5V345.9H637.5V346.0H661.5V331.9H685.5V358.7H709.5V352.0H733.5V344.1H757.5V338.2H781.5V368.8H794.0"/>
<path d="M121.0 315.5H133.5V316.2H157.5V335.5H181.5V316.0H205.5V326.5H229.5V302.1H253.5V319.9H277.5V304.0H301.5V303.5H325.5V286.2H349.5V237.1H373.5V236.0H397.5V223.4H421.5V229.6H445.5V274.5H469.5V243.8H493.5V248.2H517.5V297.9H541.5V273.0H565.5V277.7H589.5V311.7H613.5V357.7H637.5V363.2H661.5V324.0H685.5V356.9H709.5V371.4H733.5V349.8H757.5V345.5H781.5V346.2H794.0"/>
<path d="M121.0 342.7H133.5V372.5H157.5V343.2H181.5V340.3H205.5V362.0H229.5V381.9H253.5V319.5H277.5V299.4H301.5V322.8H325.5V274.9H349.5V240.8H373.5V263.4H397.5V243.5H421.5V222.9H445.5V257.7H469.5V257.4H493.5V262.6H517.5V280.5H541.5V288.5H565.5V305.0H589.5V308.6H613.5V336.3H637.5V360.9H661.5V342.6H685.5V364.0H709.5V343.6H733.5V350.2H757.5V338.3H781.5V321.2H794.0"/>
<path d="M121.0 324.3H133.5V363.4H157.5V339.7H181.5V327.8H205.5V358.9H229.5V341.2H253.5V318.3H277.5V298.5H301.5V314.1H325.5V284.9H349.5V268.7H373.5V245.7H397.5V234.3H421.5V252.5H445.5V245.8H469.5V242.4H493.5V248.4H517.5V269.4H541.5V316.7H565.5V281.6H589.5V306.8H613.5V325.5H637.5V370.4H661.5V331.7H685.5V347.8H709.5V345.0H733.5V360.3H757.5V323.8H781.5V303.0H794.0"/>
<path d="M121.0 284.3H133.5V343.1H157.5V368.6H181.5V351.2H205.5V377.8H229.5V326.8H253.5V331.9H277.5V311.5H301.5V286.4H325.5V264.7H349.5V226.3H373.5V239.6H397.5V244.4H421.5V265.2H445.5V263.6H469.5V243.8H493.5V266.9H517.5V311.4H541.5V269.4H565.5V302.8H589.5V308.7H613.5V353.4H637.5V346.8H661.5V332.2H685.5V343.3H709.5V368.8H733.5V360.7H757.5V338.2H781.5V339.2H794.0"/>
<path d="M121.0 342.6H133.5V350.0H157.5V346.8H181.5V366.2H205.5V377.4H229.5V356.5H253.5V358.8H277.5V313.2H301.5V305.4H325.5V289.2H349.5V232.6H373.5V243.6H397.5V234.7H421.5V255.5H445.5V260.4H469.5V242.8H493.5V259.1H517.5V290.1H541.5V287.7H565.5V296.2H589.5V315.4H613.5V340.7H637.5V365.1H661.5V323.8H685.5V335.7H709.5V378.3H733.5V370.2H757.5V341.3H781.5V364.2H794.0"/>
<path d="M121.0 328.0H133.5V343.1H157.5V340.1H181.5V358.1H205.5V338.8H229.5V364.2H253.5V363.7H277.5V297.9H301.5V313.2H325.5V256.6H349.5V259.0H373.5V233.3H397.5V244.5H421.5V265.1H445.5V271.0H469.5V237.5H493.5V242.8H517.5V314.0H541.5V287.4H565.5V299.1H589.5V291.6H613.5V349.8H637.5V365.2H661.5V340.1H685.5V351.7H709.5V362.3H733.5V339.1H757.5V385.8H781.5V311.9H794.0"/>
<path d="M121.0 316.3H133.5V343.5H157.5V407.5H181.5V395.8H205.5V371.2H229.5V345.7H253.5V302.1H277.5V292.5H301.5V309.5H325.5V281.6H349.5V243.9H373.5V233.8H397.5V239.9H421.5V253.3H445.5V254.2H469.5V237.1H493.5V266.6H517.5V286.1H541.5V313.5H565.5V303.4H589.5V295.4H613.5V329.0H637.5V342.0H661.5V338.2H685.5V329.8H709.5V363.3H733.5V341.4H757.5V335.5H781.5V345.0H794.0"/>
<path d="M121.0 315.9H133.5V360.8H157.5V317.7H181.5V322.1H205.5V318.7H229.5V342.1H253.5V299.0H277.5V285.9H301.5V302.5H325.5V258.2H349.5V258.1H373.5V244.1H397.5V258.2H421.5V272.9H445.5V260.5H469.5V260.4H493.5V246.9H517.5V285.7H541.5V291.8H565.5V297.3H589.5V293.3H613.5V325.4H637.5V355.0H661.5V353.2H685.5V371.4H709.5V351.0H733.5V366.8H757.5V356.1H781.5V301.7H794.0"/>
<path d="M121.0 333.3H133.5V367.4H157.5V348.2H181.5V382.0H205.5V345.9H229.5V355.3H253.5V324.4H277.5V285.8H301.5V313.0H325.5V279.2H349.5V221.1H373.5V222.3H397.5V238.0H421.5V236.4H445.5V281.2H469.5V238.7H493.5V243.1H517.5V257.7H541.5V290.1H565.5V320.9H589.5V338.2H613.5V336.6H637.5V338.3H661.5V362.2H685.5V351.7H709.5V345.0H733.5V379.5H757.5V339.4H781.5V325.8H794.0"/>
<path d="M121.0 324.5H133.5V373.6H157.5V375.1H181.5V361.6H205.5V390.1H229.5V323.7H253.5V339.1H277.5V321.7H301.5V315.7H325.5V278.1H349.5V223.6H373.5V217.7H397.5V232.2H421.5V232.0H445.5V280.6H469.5V245.7H493.5V276.8H517.5V308.1H541.5V299.6H565.5V294.4H589.5V309.4H613.5V340.1H637.5V357.5H661.5V341.7H685.5V349.7H709.5V341.5H733.5V343.5H757.5V328.9H781.5V342.8H794.0"/>
<path d="M121.0 369.6H133.5V324.2H157.5V354.6H181.5V384.7H205.5V367.5H229.5V326.8H253.5V329.3H277.5V307.1H301.5V284.8H325.5V278.7H349.5V229.0H373.5V231.0H397.5V241.9H421.5V258.6H445.5V228.1H469.5V239.3H493.5V259.4H517.5V272.0H541.5V271.7H565.5V292.5H589.5V317.6H613.5V321.5H637.5V370.3H661.5V353.5H685.5V362.4H709.5V356.2H733.5V367.6H757.5V342.5H781.5V325.2H794.0"/>
<path d="M121.0 290.1H133.5V305.7H157.5V304.5H181.5V338.2H205.5V332.4H229.5V354.8H253.5V347.5H277.5V306.0H301.5V276.1H325.5V280.5H349.5V260.7H373.5V233.3H397.5V228.9H421.5V279.3H445.5V238.0H469.5V227.4H493.5V254.2H517.5V266.9H541.5V270.2H565.5V294.0H589.5V314.1H613.5V341.8H637.5V355.2H661.5V340.7H685.5V350.6H709.5V357.1H733.5V353.9H757.5V342.3H781.5V347.6H794.0"/>
<path d="M121.0 290.7H133.5V375.5H157.5V369.7H181.5V317.1H205.5V368.6H229.5V343.7H253.5V358.3H277.5V289.8H301.5V276.0H325.5V264.4H349.5V240.1H373.5V256.9H397.5V235.5H421.5V272.7H445.5V259.7H469.5V267.3H493.5V249.6H517.5V264.1H541.5V285.3H565.5V299.6H589.5V292.1H613.5V355.6H637.5V357.4H661.5V345.3H685.5V346.3H709.5V373.8H733.5V358.1H757.5V365.0H781.5V350.0H794.0"/>
</g>
<path d="M121.0 303.4H133.5V317.8H157.5V340.7H181.5V339.4H205.5V353.8H229.5V351.2H253.5V334.7H277.5V324.8H301.5V295.8H325.5V261.7H349.5V230.9H373.5V229.6H397.5V246.2H421.5V245.2H445.5V239.8H469.5V246.8H493.5V243.4H517.5V281.4H541.5V286.9H565.5V295.8H589.5V294.1H613.5V329.6H637.5V358.8H661.5V357.0H685.5V359.2H709.5V374.8H733.5V362.4H757.5V374.8H781.5V363.5H794.0" fill="none" stroke="#ff0000" stroke-width="1.9" clip-path="url(#cp)"/>
<path d="M121.0 38.3H794.0V457.3H121.0ZM121.00 457.3v-8.2M121.00 38.3v8.2M145.04 457.3v-4.3M145.04 38.3v4.3M169.07 457.3v-4.3M169.07 38.3v4.3M193.11 457.3v-4.3M193.11 38.3v4.3M217.14 457.3v-8.2M217.14 38.3v8.2M241.18 457.3v-4.3M241.18 38.3v4.3M265.21 457.3v-4.3M265.21 38.3v4.3M289.25 457.3v-4.3M289.25 38.3v4.3M313.29 457.3v-8.2M313.29 38.3v8.2M337.32 457.3v-4.3M337.32 38.3v4.3M361.36 457.3v-4.3M361.36 38.3v4.3M385.39 457.3v-4.3M385.39 38.3v4.3M409.43 457.3v-8.2M409.43 38.3v8.2M433.46 457.3v-4.3M433.46 38.3v4.3M457.50 457.3v-4.3M457.50 38.3v4.3M481.54 457.3v-4.3M481.54 38.3v4.3M505.57 457.3v-8.2M505.57 38.3v8.2M529.61 457.3v-4.3M529.61 38.3v4.3M553.64 457.3v-4.3M553.64 38.3v4.3M577.68 457.3v-4.3M577.68 38.3v4.3M601.71 457.3v-8.2M601.71 38.3v8.2M625.75 457.3v-4.3M625.75 38.3v4.3M649.79 457.3v-4.3M649.79 38.3v4.3M673.82 457.3v-4.3M673.82 38.3v4.3M697.86 457.3v-8.2M697.86 38.3v8.2M721.89 457.3v-4.3M721.89 38.3v4.3M745.93 457.3v-4.3M745.93 38.3v4.3M769.96 457.3v-4.3M769.96 38.3v4.3M794.00 457.3v-8.2M794.00 38.3v8.2M121.0 457.30h12.5M794.0 457.30h-12.5M121.0 415.40h6.7M794.0 415.40h-6.7M121.0 373.50h12.5M794.0 373.50h-12.5M121.0 331.60h6.7M794.0 331.60h-6.7M121.0 289.70h12.5M794.0 289.70h-12.5M121.0 247.80h6.7M794.0 247.80h-6.7M121.0 205.90h12.5M794.0 205.90h-12.5M121.0 164.00h6.7M794.0 164.00h-6.7M121.0 122.10h12.5M794.0 122.10h-12.5M121.0 80.20h6.7M794.0 80.20h-6.7M121.0 38.30h12.5M794.0 38.30h-12.5" fill="none" stroke="#666" stroke-width="1"/>
<text transform="translate(121.0,486.2) scale(0.985,1)" font-size="23.3" text-anchor="middle">5.6</text>
<text transform="translate(217.1,486.2) scale(0.985,1)" font-size="23.3" text-anchor="middle">5.8</text>
<text transform="translate(313.3,486.2) scale(0.985,1)" font-size="23.3" text-anchor="middle">6.0</text>
<text transform="translate(409.4,486.2) scale(0.985,1)" font-size="23.3" text-anchor="middle">6.2</text>
<text transform="translate(505.6,486.2) scale(0.985,1)" font-size="23.3" text-anchor="middle">6.4</text>
<text transform="translate(601.7,486.2) scale(0.985,1)" font-size="23.3" text-anchor="middle">6.6</text>
<text transform="translate(697.9,486.2) scale(0.985,1)" font-size="23.3" text-anchor="middle">6.8</text>
<text transform="translate(794.0,486.2) scale(0.985,1)" font-size="23.3" text-anchor="middle">7.0</text>
<text transform="translate(74.2,457.2) scale(0.985,1)" font-size="23.3" text-anchor="start">10<tspan dx="-0.4" dy="-10.1" font-size="14.2">20</tspan></text>
<text transform="translate(74.2,380.5) scale(0.985,1)" font-size="23.3" text-anchor="start">10<tspan dx="-0.4" dy="-10.1" font-size="14.2">22</tspan></text>
<text transform="translate(74.2,297) scale(0.985,1)" font-size="23.3" text-anchor="start">10<tspan dx="-0.4" dy="-10.1" font-size="14.2">24</tspan></text>
<text transform="translate(74.2,213.2) scale(0.985,1)" font-size="23.3" text-anchor="start">10<tspan dx="-0.4" dy="-10.1" font-size="14.2">26</tspan></text>
<text transform="translate(74.2,129.8) scale(0.985,1)" font-size="23.3" text-anchor="start">10<tspan dx="-0.4" dy="-10.1" font-size="14.2">28</tspan></text>
<text transform="translate(74.2,51.5) scale(0.985,1)" font-size="23.3" text-anchor="start">10<tspan dx="-0.4" dy="-10.1" font-size="14.2">30</tspan></text>
<text transform="translate(457.7,511.6) scale(0.984,1)" font-size="23.7" text-anchor="middle">Log Temperature (K)</text>
<text transform="translate(55.4,247.2) rotate(-90) scale(0.956,1)" font-size="24" text-anchor="middle">Emission Measure (cm<tspan dy="-10.7">−5</tspan><tspan dy="10.7">)</tspan></text>
<text transform="translate(144.7,110.6) scale(0.912,1)" font-size="50.5" text-anchor="start">C</text>
<rect x="616.7" y="55" width="162.6" height="156.5" fill="#fff"/>
<text transform="translate(655.3,84.6) scale(0.96,1)" font-size="23.9" text-anchor="end" style="fill:#0000ff">Ar</text>
<path d="M671 77.7H757.3" stroke="#0000ff" stroke-width="2.8" fill="none"/>
<text transform="translate(655.3,107.8) scale(0.96,1)" font-size="23.9" text-anchor="end" style="fill:#ff8000">Ca</text>
<path d="M671 100.9H757.3" stroke="#ff8000" stroke-width="2.8" fill="none"/>
<text transform="translate(655.3,131.0) scale(0.96,1)" font-size="23.9" text-anchor="end" style="fill:#008000">Fe</text>
<path d="M671 124.1H757.3" stroke="#008000" stroke-width="2.8" fill="none"/>
<text transform="translate(655.3,154.2) scale(0.96,1)" font-size="23.9" text-anchor="end" style="fill:#00ffff">Mg</text>
<path d="M671 147.3H757.3" stroke="#00ffff" stroke-width="2.8" fill="none"/>
<text transform="translate(655.3,177.4) scale(0.96,1)" font-size="23.9" text-anchor="end" style="fill:#ff00ff">S</text>
<path d="M671 170.5H757.3" stroke="#ff00ff" stroke-width="2.8" fill="none"/>
<text transform="translate(655.3,200.6) scale(0.96,1)" font-size="23.9" text-anchor="end" style="fill:#808000">Si</text>
<path d="M671 193.7H757.3" stroke="#808000" stroke-width="2.8" fill="none"/>
</svg></body></html>
